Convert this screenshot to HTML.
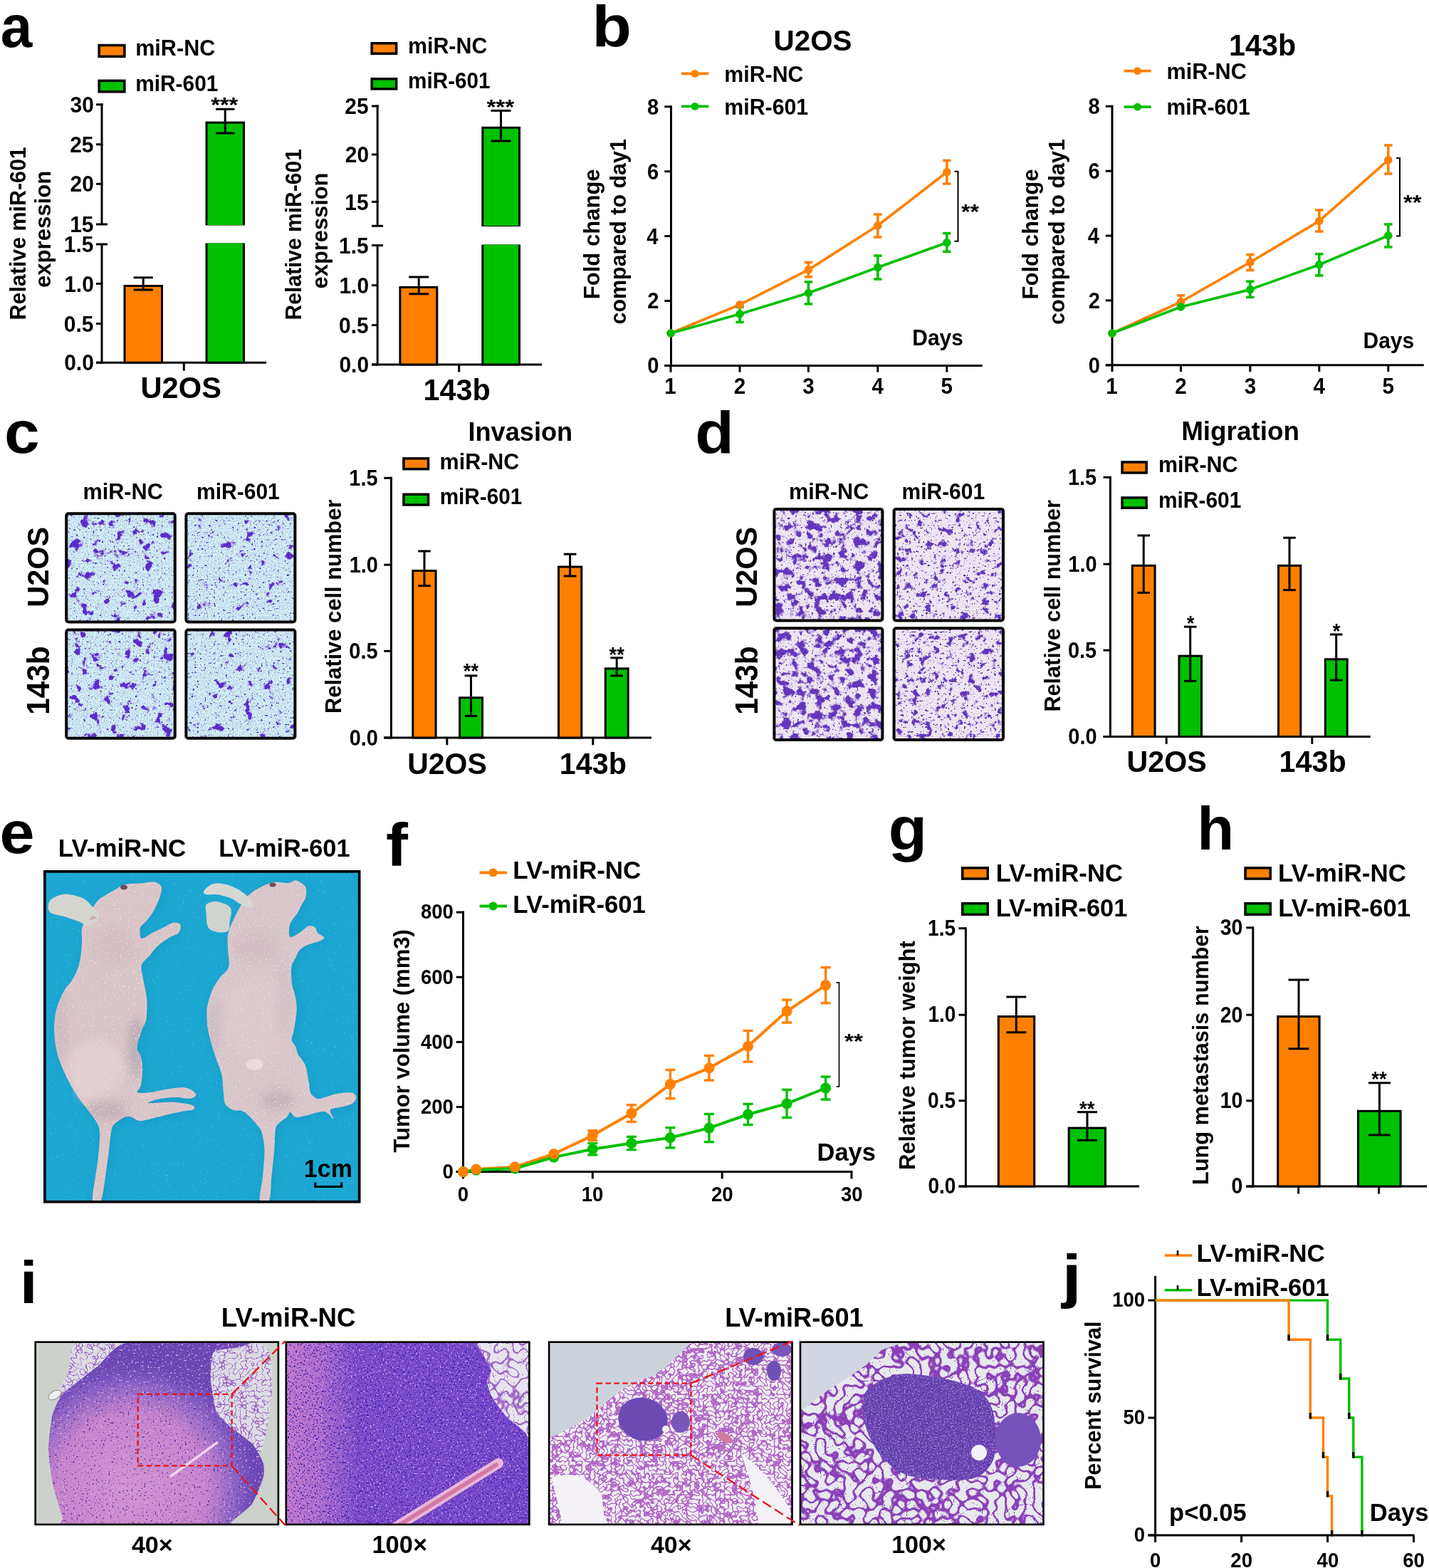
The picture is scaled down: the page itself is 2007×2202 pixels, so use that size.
<!DOCTYPE html><html><head><meta charset="utf-8"><title>Figure</title><style>html,body{margin:0;padding:0;background:#fff;width:2007px;height:2202px;overflow:hidden}svg{display:block}</style></head><body><svg width="2007" height="2202" viewBox="0 0 2007 2202" font-family="'Liberation Sans', Arial, Helvetica, sans-serif" font-weight="bold"><rect width="2007" height="2202" fill="#fff"/><text x="0.65" y="65.80" font-size="84.00" textLength="44.54" lengthAdjust="spacingAndGlyphs">a</text>
<rect x="139.15" y="63.55" width="35.70" height="15.80" fill="#FF8000" stroke="#000" stroke-width="3.5"/>
<rect x="139.15" y="113.35" width="35.70" height="15.50" fill="#00C000" stroke="#000" stroke-width="3.5"/>
<text x="190.18" y="78.30" font-size="31.35" textLength="112.15" lengthAdjust="spacingAndGlyphs">miR-NC</text>
<text x="190.23" y="128.00" font-size="30.59" textLength="116.10" lengthAdjust="spacingAndGlyphs">miR-601</text>
<line x1="143.00" y1="145.30" x2="143.00" y2="315.00" stroke="#000" stroke-width="3"/>
<line x1="143.00" y1="343.00" x2="143.00" y2="510.70" stroke="#000" stroke-width="3"/>
<line x1="135.00" y1="146.80" x2="144.50" y2="146.80" stroke="#000" stroke-width="3"/>
<line x1="135.00" y1="202.80" x2="144.50" y2="202.80" stroke="#000" stroke-width="3"/>
<line x1="135.00" y1="258.30" x2="144.50" y2="258.30" stroke="#000" stroke-width="3"/>
<line x1="135.00" y1="315.00" x2="151.00" y2="315.00" stroke="#000" stroke-width="3"/>
<line x1="135.00" y1="343.00" x2="151.00" y2="343.00" stroke="#000" stroke-width="3"/>
<line x1="135.00" y1="398.40" x2="143.00" y2="398.40" stroke="#000" stroke-width="3"/>
<line x1="135.00" y1="454.50" x2="143.00" y2="454.50" stroke="#000" stroke-width="3"/>
<line x1="135.00" y1="509.20" x2="143.00" y2="509.20" stroke="#000" stroke-width="3"/>
<line x1="135.00" y1="509.20" x2="374.00" y2="509.20" stroke="#000" stroke-width="3"/>
<line x1="258.30" y1="509.20" x2="258.30" y2="520.70" stroke="#000" stroke-width="3"/>
<text x="98.54" y="157.90" font-size="31.50" textLength="33.29" lengthAdjust="spacingAndGlyphs">30</text>
<text x="98.15" y="213.90" font-size="31.50" textLength="33.29" lengthAdjust="spacingAndGlyphs">25</text>
<text x="98.54" y="269.40" font-size="31.50" textLength="33.29" lengthAdjust="spacingAndGlyphs">20</text>
<text x="98.15" y="326.10" font-size="31.50" textLength="33.29" lengthAdjust="spacingAndGlyphs">15</text>
<text x="89.83" y="354.10" font-size="31.50" textLength="41.60" lengthAdjust="spacingAndGlyphs">1.5</text>
<text x="90.23" y="409.50" font-size="31.50" textLength="41.60" lengthAdjust="spacingAndGlyphs">1.0</text>
<text x="89.83" y="465.60" font-size="31.50" textLength="41.60" lengthAdjust="spacingAndGlyphs">0.5</text>
<text x="90.23" y="520.30" font-size="31.50" textLength="41.60" lengthAdjust="spacingAndGlyphs">0.0</text>
<rect x="175.00" y="401.50" width="52.50" height="107.70" fill="#FF8000" stroke="#000" stroke-width="3"/>
<line x1="201.20" y1="389.80" x2="201.20" y2="407.00" stroke="#000" stroke-width="3"/><line x1="187.60" y1="389.80" x2="214.80" y2="389.80" stroke="#000" stroke-width="3"/><line x1="187.60" y1="407.00" x2="214.80" y2="407.00" stroke="#000" stroke-width="3"/>
<rect x="290.0" y="172.1" width="52.5" height="142.9" fill="#00C000" stroke="#000" stroke-width="3"/>
<rect x="290.0" y="343" width="52.5" height="166.2" fill="#00C000" stroke="#000" stroke-width="3"/>
<rect x="291.5" y="310" width="49.5" height="6" fill="#00C000"/>
<rect x="291.5" y="341.5" width="49.5" height="4" fill="#00C000"/>
<line x1="316.20" y1="153.30" x2="316.20" y2="187.00" stroke="#000" stroke-width="3"/><line x1="303.00" y1="153.30" x2="329.40" y2="153.30" stroke="#000" stroke-width="3"/><line x1="303.00" y1="187.00" x2="329.40" y2="187.00" stroke="#000" stroke-width="3"/>
<text x="296.20" y="157.30" font-size="28.80" textLength="38.13" lengthAdjust="spacingAndGlyphs">***</text>
<text x="197.50" y="559.00" font-size="42.69" textLength="113.43" lengthAdjust="spacingAndGlyphs">U2OS</text>
<text transform="translate(36.00,447.40) rotate(-90)" x="-2.03" y="0" font-size="31.14" textLength="243.18" lengthAdjust="spacingAndGlyphs">Relative miR-601</text>
<text transform="translate(70.50,402.80) rotate(-90)" x="-1.22" y="0" font-size="31.88" textLength="164.24" lengthAdjust="spacingAndGlyphs">expression</text>
<rect x="522.15" y="60.75" width="34.50" height="14.50" fill="#FF8000" stroke="#000" stroke-width="3.5"/>
<rect x="522.15" y="110.75" width="34.50" height="14.10" fill="#00C000" stroke="#000" stroke-width="3.5"/>
<text x="573.00" y="74.80" font-size="31.12" textLength="111.33" lengthAdjust="spacingAndGlyphs">miR-NC</text>
<text x="573.04" y="124.30" font-size="30.45" textLength="115.59" lengthAdjust="spacingAndGlyphs">miR-601</text>
<line x1="530.20" y1="147.50" x2="530.20" y2="317.30" stroke="#000" stroke-width="3"/>
<line x1="530.20" y1="344.60" x2="530.20" y2="513.50" stroke="#000" stroke-width="3"/>
<line x1="522.00" y1="149.00" x2="531.70" y2="149.00" stroke="#000" stroke-width="3"/>
<line x1="522.00" y1="217.00" x2="531.70" y2="217.00" stroke="#000" stroke-width="3"/>
<line x1="522.00" y1="283.40" x2="531.70" y2="283.40" stroke="#000" stroke-width="3"/>
<line x1="522.00" y1="317.30" x2="538.00" y2="317.30" stroke="#000" stroke-width="3"/>
<line x1="522.00" y1="344.60" x2="538.00" y2="344.60" stroke="#000" stroke-width="3"/>
<line x1="522.00" y1="400.70" x2="530.20" y2="400.70" stroke="#000" stroke-width="3"/>
<line x1="522.00" y1="456.60" x2="530.20" y2="456.60" stroke="#000" stroke-width="3"/>
<line x1="522.00" y1="512.00" x2="530.20" y2="512.00" stroke="#000" stroke-width="3"/>
<line x1="522.00" y1="512.00" x2="761.00" y2="512.00" stroke="#000" stroke-width="3"/>
<line x1="644.70" y1="512.00" x2="644.70" y2="522.50" stroke="#000" stroke-width="3"/>
<text x="484.35" y="160.10" font-size="31.50" textLength="33.29" lengthAdjust="spacingAndGlyphs">25</text>
<text x="484.74" y="228.10" font-size="31.50" textLength="33.29" lengthAdjust="spacingAndGlyphs">20</text>
<text x="484.35" y="294.50" font-size="31.50" textLength="33.29" lengthAdjust="spacingAndGlyphs">15</text>
<text x="476.03" y="355.70" font-size="31.50" textLength="41.60" lengthAdjust="spacingAndGlyphs">1.5</text>
<text x="476.43" y="411.80" font-size="31.50" textLength="41.60" lengthAdjust="spacingAndGlyphs">1.0</text>
<text x="476.03" y="467.70" font-size="31.50" textLength="41.60" lengthAdjust="spacingAndGlyphs">0.5</text>
<text x="476.43" y="523.10" font-size="31.50" textLength="41.60" lengthAdjust="spacingAndGlyphs">0.0</text>
<rect x="561.90" y="403.40" width="51.90" height="108.60" fill="#FF8000" stroke="#000" stroke-width="3"/>
<line x1="588.20" y1="389.00" x2="588.20" y2="412.80" stroke="#000" stroke-width="3"/><line x1="574.20" y1="389.00" x2="602.20" y2="389.00" stroke="#000" stroke-width="3"/><line x1="574.20" y1="412.80" x2="602.20" y2="412.80" stroke="#000" stroke-width="3"/>
<rect x="677.8" y="179.3" width="51.700000000000045" height="137.2" fill="#00C000" stroke="#000" stroke-width="3"/>
<rect x="677.8" y="345" width="51.700000000000045" height="167" fill="#00C000" stroke="#000" stroke-width="3"/>
<rect x="679.3" y="311" width="48.700000000000045" height="6" fill="#00C000"/>
<rect x="679.3" y="343.5" width="48.700000000000045" height="4" fill="#00C000"/>
<line x1="703.50" y1="155.40" x2="703.50" y2="198.00" stroke="#000" stroke-width="3"/><line x1="689.50" y1="155.40" x2="717.50" y2="155.40" stroke="#000" stroke-width="3"/><line x1="689.50" y1="198.00" x2="717.50" y2="198.00" stroke="#000" stroke-width="3"/>
<text x="683.40" y="159.50" font-size="28.80" textLength="38.93" lengthAdjust="spacingAndGlyphs">***</text>
<text x="594.59" y="562.00" font-size="42.41" textLength="94.30" lengthAdjust="spacingAndGlyphs">143b</text>
<text transform="translate(423.00,447.40) rotate(-90)" x="-2.01" y="0" font-size="30.77" textLength="240.24" lengthAdjust="spacingAndGlyphs">Relative miR-601</text>
<text transform="translate(459.50,404.20) rotate(-90)" x="-1.20" y="0" font-size="31.61" textLength="162.82" lengthAdjust="spacingAndGlyphs">expression</text>
<text x="831.62" y="64.50" font-size="82.00" textLength="55.40" lengthAdjust="spacingAndGlyphs">b</text>
<line x1="942.50" y1="148.30" x2="942.50" y2="514.90" stroke="#000" stroke-width="3"/>
<line x1="933.30" y1="513.40" x2="942.50" y2="513.40" stroke="#000" stroke-width="3"/>
<line x1="933.30" y1="422.50" x2="942.50" y2="422.50" stroke="#000" stroke-width="3"/>
<line x1="933.30" y1="331.60" x2="942.50" y2="331.60" stroke="#000" stroke-width="3"/>
<line x1="933.30" y1="240.70" x2="942.50" y2="240.70" stroke="#000" stroke-width="3"/>
<line x1="933.30" y1="149.80" x2="942.50" y2="149.80" stroke="#000" stroke-width="3"/>
<line x1="933.30" y1="513.40" x2="1379.70" y2="513.40" stroke="#000" stroke-width="3"/>
<line x1="942.00" y1="513.40" x2="942.00" y2="522.60" stroke="#000" stroke-width="3"/>
<line x1="1039.00" y1="513.40" x2="1039.00" y2="522.60" stroke="#000" stroke-width="3"/>
<line x1="1135.40" y1="513.40" x2="1135.40" y2="522.60" stroke="#000" stroke-width="3"/>
<line x1="1232.80" y1="513.40" x2="1232.80" y2="522.60" stroke="#000" stroke-width="3"/>
<line x1="1329.80" y1="513.40" x2="1329.80" y2="522.60" stroke="#000" stroke-width="3"/>
<text x="909.19" y="524.30" font-size="31.00" textLength="16.21" lengthAdjust="spacingAndGlyphs">0</text>
<text x="909.16" y="433.40" font-size="31.00" textLength="16.21" lengthAdjust="spacingAndGlyphs">2</text>
<text x="908.15" y="342.50" font-size="31.00" textLength="16.21" lengthAdjust="spacingAndGlyphs">4</text>
<text x="909.05" y="251.60" font-size="31.00" textLength="16.21" lengthAdjust="spacingAndGlyphs">6</text>
<text x="908.89" y="160.70" font-size="31.00" textLength="16.21" lengthAdjust="spacingAndGlyphs">8</text>
<text x="933.25" y="552.60" font-size="31.50" textLength="16.47" lengthAdjust="spacingAndGlyphs">1</text>
<text x="1030.85" y="552.60" font-size="31.50" textLength="16.47" lengthAdjust="spacingAndGlyphs">2</text>
<text x="1127.36" y="552.60" font-size="31.50" textLength="16.47" lengthAdjust="spacingAndGlyphs">3</text>
<text x="1224.42" y="552.60" font-size="31.50" textLength="16.47" lengthAdjust="spacingAndGlyphs">4</text>
<text x="1321.52" y="552.60" font-size="31.50" textLength="16.47" lengthAdjust="spacingAndGlyphs">5</text>
<polyline points="942.0,468.0 1039.0,427.9 1135.4,378.9 1232.8,316.8 1329.8,241.7" fill="none" stroke="#FF8000" stroke-width="3.7" stroke-linejoin="round"/>
<polyline points="942.0,468.0 1039.0,441.0 1135.4,411.5 1232.8,375.6 1329.8,340.7" fill="none" stroke="#00C000" stroke-width="3.7" stroke-linejoin="round"/>
<line x1="1135.40" y1="368.40" x2="1135.40" y2="388.70" stroke="#FF8000" stroke-width="3.6"/><line x1="1129.70" y1="368.40" x2="1141.10" y2="368.40" stroke="#FF8000" stroke-width="3.6"/><line x1="1129.70" y1="388.70" x2="1141.10" y2="388.70" stroke="#FF8000" stroke-width="3.6"/>
<line x1="1232.80" y1="301.00" x2="1232.80" y2="333.00" stroke="#FF8000" stroke-width="3.6"/><line x1="1227.10" y1="301.00" x2="1238.50" y2="301.00" stroke="#FF8000" stroke-width="3.6"/><line x1="1227.10" y1="333.00" x2="1238.50" y2="333.00" stroke="#FF8000" stroke-width="3.6"/>
<line x1="1329.80" y1="225.40" x2="1329.80" y2="258.00" stroke="#FF8000" stroke-width="3.6"/><line x1="1324.10" y1="225.40" x2="1335.50" y2="225.40" stroke="#FF8000" stroke-width="3.6"/><line x1="1324.10" y1="258.00" x2="1335.50" y2="258.00" stroke="#FF8000" stroke-width="3.6"/>
<line x1="1039.00" y1="431.00" x2="1039.00" y2="452.40" stroke="#00C000" stroke-width="3.6"/><line x1="1033.30" y1="431.00" x2="1044.70" y2="431.00" stroke="#00C000" stroke-width="3.6"/><line x1="1033.30" y1="452.40" x2="1044.70" y2="452.40" stroke="#00C000" stroke-width="3.6"/>
<line x1="1135.40" y1="395.90" x2="1135.40" y2="426.90" stroke="#00C000" stroke-width="3.6"/><line x1="1129.70" y1="395.90" x2="1141.10" y2="395.90" stroke="#00C000" stroke-width="3.6"/><line x1="1129.70" y1="426.90" x2="1141.10" y2="426.90" stroke="#00C000" stroke-width="3.6"/>
<line x1="1232.80" y1="359.00" x2="1232.80" y2="392.00" stroke="#00C000" stroke-width="3.6"/><line x1="1227.10" y1="359.00" x2="1238.50" y2="359.00" stroke="#00C000" stroke-width="3.6"/><line x1="1227.10" y1="392.00" x2="1238.50" y2="392.00" stroke="#00C000" stroke-width="3.6"/>
<line x1="1329.80" y1="327.60" x2="1329.80" y2="353.40" stroke="#00C000" stroke-width="3.6"/><line x1="1324.10" y1="327.60" x2="1335.50" y2="327.60" stroke="#00C000" stroke-width="3.6"/><line x1="1324.10" y1="353.40" x2="1335.50" y2="353.40" stroke="#00C000" stroke-width="3.6"/>
<circle cx="942.0" cy="468.0" r="5.8" fill="#FF8000"/>
<circle cx="1039.0" cy="427.9" r="5.8" fill="#FF8000"/>
<circle cx="1135.4" cy="378.9" r="5.8" fill="#FF8000"/>
<circle cx="1232.8" cy="316.8" r="5.8" fill="#FF8000"/>
<circle cx="1329.8" cy="241.7" r="5.8" fill="#FF8000"/>
<circle cx="942.0" cy="468.0" r="5.8" fill="#00C000"/>
<circle cx="1039.0" cy="441.0" r="5.8" fill="#00C000"/>
<circle cx="1135.4" cy="411.5" r="5.8" fill="#00C000"/>
<circle cx="1232.8" cy="375.6" r="5.8" fill="#00C000"/>
<circle cx="1329.8" cy="340.7" r="5.8" fill="#00C000"/>
<polyline points="1340.5,240.7 1345.5,240.7 1345.5,338.7 1340.5,338.7" fill="none" stroke="#000" stroke-width="2"/>
<text x="1349.91" y="306.50" font-size="28.80" textLength="25.13" lengthAdjust="spacingAndGlyphs">**</text>
<text x="1281.30" y="485.10" font-size="30.71" textLength="71.63" lengthAdjust="spacingAndGlyphs">Days</text>
<text transform="translate(841.70,418.20) rotate(-90)" x="-2.08" y="0" font-size="31.84" textLength="182.94" lengthAdjust="spacingAndGlyphs">Fold change</text>
<text transform="translate(878.80,454.30) rotate(-90)" x="-1.19" y="0" font-size="31.18" textLength="260.33" lengthAdjust="spacingAndGlyphs">compared to day1</text>
<text x="1086.57" y="70.50" font-size="41.41" textLength="110.00" lengthAdjust="spacingAndGlyphs">U2OS</text>
<line x1="956.80" y1="103.40" x2="995.30" y2="103.40" stroke="#FF8000" stroke-width="3.8"/>
<circle cx="976.0" cy="103.4" r="5.4" fill="#FF8000"/>
<line x1="956.80" y1="149.40" x2="995.30" y2="149.40" stroke="#00C000" stroke-width="3.8"/>
<circle cx="976.0" cy="149.4" r="5.4" fill="#00C000"/>
<text x="1017.30" y="114.60" font-size="31.07" textLength="111.13" lengthAdjust="spacingAndGlyphs">miR-NC</text>
<text x="1017.30" y="160.60" font-size="31.07" textLength="117.94" lengthAdjust="spacingAndGlyphs">miR-601</text>
<line x1="1562.00" y1="147.80" x2="1562.00" y2="514.30" stroke="#000" stroke-width="3"/>
<line x1="1552.80" y1="512.80" x2="1562.00" y2="512.80" stroke="#000" stroke-width="3"/>
<line x1="1552.80" y1="421.92" x2="1562.00" y2="421.92" stroke="#000" stroke-width="3"/>
<line x1="1552.80" y1="331.05" x2="1562.00" y2="331.05" stroke="#000" stroke-width="3"/>
<line x1="1552.80" y1="240.18" x2="1562.00" y2="240.18" stroke="#000" stroke-width="3"/>
<line x1="1552.80" y1="149.30" x2="1562.00" y2="149.30" stroke="#000" stroke-width="3"/>
<line x1="1552.80" y1="512.80" x2="1999.80" y2="512.80" stroke="#000" stroke-width="3"/>
<line x1="1562.00" y1="512.80" x2="1562.00" y2="522.00" stroke="#000" stroke-width="3"/>
<line x1="1658.50" y1="512.80" x2="1658.50" y2="522.00" stroke="#000" stroke-width="3"/>
<line x1="1755.80" y1="512.80" x2="1755.80" y2="522.00" stroke="#000" stroke-width="3"/>
<line x1="1852.80" y1="512.80" x2="1852.80" y2="522.00" stroke="#000" stroke-width="3"/>
<line x1="1949.80" y1="512.80" x2="1949.80" y2="522.00" stroke="#000" stroke-width="3"/>
<text x="1528.69" y="523.70" font-size="31.00" textLength="16.21" lengthAdjust="spacingAndGlyphs">0</text>
<text x="1528.66" y="432.82" font-size="31.00" textLength="16.21" lengthAdjust="spacingAndGlyphs">2</text>
<text x="1527.65" y="341.95" font-size="31.00" textLength="16.21" lengthAdjust="spacingAndGlyphs">4</text>
<text x="1528.55" y="251.08" font-size="31.00" textLength="16.21" lengthAdjust="spacingAndGlyphs">6</text>
<text x="1528.39" y="160.20" font-size="31.00" textLength="16.21" lengthAdjust="spacingAndGlyphs">8</text>
<text x="1553.25" y="552.60" font-size="31.50" textLength="16.47" lengthAdjust="spacingAndGlyphs">1</text>
<text x="1650.35" y="552.60" font-size="31.50" textLength="16.47" lengthAdjust="spacingAndGlyphs">2</text>
<text x="1747.76" y="552.60" font-size="31.50" textLength="16.47" lengthAdjust="spacingAndGlyphs">3</text>
<text x="1844.42" y="552.60" font-size="31.50" textLength="16.47" lengthAdjust="spacingAndGlyphs">4</text>
<text x="1941.52" y="552.60" font-size="31.50" textLength="16.47" lengthAdjust="spacingAndGlyphs">5</text>
<polyline points="1562.0,468.0 1658.5,424.0 1755.8,368.4 1852.8,310.3 1949.8,224.7" fill="none" stroke="#FF8000" stroke-width="3.7" stroke-linejoin="round"/>
<polyline points="1562.0,468.0 1658.5,431.0 1755.8,406.6 1852.8,371.7 1949.8,330.9" fill="none" stroke="#00C000" stroke-width="3.7" stroke-linejoin="round"/>
<line x1="1658.50" y1="414.80" x2="1658.50" y2="430.50" stroke="#FF8000" stroke-width="3.6"/><line x1="1652.80" y1="414.80" x2="1664.20" y2="414.80" stroke="#FF8000" stroke-width="3.6"/><line x1="1652.80" y1="430.50" x2="1664.20" y2="430.50" stroke="#FF8000" stroke-width="3.6"/>
<line x1="1755.80" y1="357.60" x2="1755.80" y2="379.50" stroke="#FF8000" stroke-width="3.6"/><line x1="1750.10" y1="357.60" x2="1761.50" y2="357.60" stroke="#FF8000" stroke-width="3.6"/><line x1="1750.10" y1="379.50" x2="1761.50" y2="379.50" stroke="#FF8000" stroke-width="3.6"/>
<line x1="1852.80" y1="295.00" x2="1852.80" y2="325.00" stroke="#FF8000" stroke-width="3.6"/><line x1="1847.10" y1="295.00" x2="1858.50" y2="295.00" stroke="#FF8000" stroke-width="3.6"/><line x1="1847.10" y1="325.00" x2="1858.50" y2="325.00" stroke="#FF8000" stroke-width="3.6"/>
<line x1="1949.80" y1="204.00" x2="1949.80" y2="244.00" stroke="#FF8000" stroke-width="3.6"/><line x1="1944.10" y1="204.00" x2="1955.50" y2="204.00" stroke="#FF8000" stroke-width="3.6"/><line x1="1944.10" y1="244.00" x2="1955.50" y2="244.00" stroke="#FF8000" stroke-width="3.6"/>
<line x1="1755.80" y1="395.20" x2="1755.80" y2="417.40" stroke="#00C000" stroke-width="3.6"/><line x1="1750.10" y1="395.20" x2="1761.50" y2="395.20" stroke="#00C000" stroke-width="3.6"/><line x1="1750.10" y1="417.40" x2="1761.50" y2="417.40" stroke="#00C000" stroke-width="3.6"/>
<line x1="1852.80" y1="356.70" x2="1852.80" y2="387.00" stroke="#00C000" stroke-width="3.6"/><line x1="1847.10" y1="356.70" x2="1858.50" y2="356.70" stroke="#00C000" stroke-width="3.6"/><line x1="1847.10" y1="387.00" x2="1858.50" y2="387.00" stroke="#00C000" stroke-width="3.6"/>
<line x1="1949.80" y1="315.00" x2="1949.80" y2="346.90" stroke="#00C000" stroke-width="3.6"/><line x1="1944.10" y1="315.00" x2="1955.50" y2="315.00" stroke="#00C000" stroke-width="3.6"/><line x1="1944.10" y1="346.90" x2="1955.50" y2="346.90" stroke="#00C000" stroke-width="3.6"/>
<circle cx="1562.0" cy="468.0" r="5.8" fill="#FF8000"/>
<circle cx="1658.5" cy="424.0" r="5.8" fill="#FF8000"/>
<circle cx="1755.8" cy="368.4" r="5.8" fill="#FF8000"/>
<circle cx="1852.8" cy="310.3" r="5.8" fill="#FF8000"/>
<circle cx="1949.8" cy="224.7" r="5.8" fill="#FF8000"/>
<circle cx="1562.0" cy="468.0" r="5.8" fill="#00C000"/>
<circle cx="1658.5" cy="431.0" r="5.8" fill="#00C000"/>
<circle cx="1755.8" cy="406.6" r="5.8" fill="#00C000"/>
<circle cx="1852.8" cy="371.7" r="5.8" fill="#00C000"/>
<circle cx="1949.8" cy="330.9" r="5.8" fill="#00C000"/>
<polyline points="1961,222 1966,222 1966,331.5 1961,331.5" fill="none" stroke="#000" stroke-width="2"/>
<text x="1970.90" y="293.50" font-size="28.80" textLength="25.63" lengthAdjust="spacingAndGlyphs">**</text>
<text x="1914.60" y="488.80" font-size="30.67" textLength="71.53" lengthAdjust="spacingAndGlyphs">Days</text>
<text transform="translate(1457.50,418.50) rotate(-90)" x="-2.08" y="0" font-size="31.89" textLength="183.24" lengthAdjust="spacingAndGlyphs">Fold change</text>
<text transform="translate(1495.00,454.70) rotate(-90)" x="-1.19" y="0" font-size="31.23" textLength="260.74" lengthAdjust="spacingAndGlyphs">compared to day1</text>
<text x="1726.10" y="77.80" font-size="42.31" textLength="94.09" lengthAdjust="spacingAndGlyphs">143b</text>
<line x1="1578.50" y1="99.60" x2="1616.70" y2="99.60" stroke="#FF8000" stroke-width="3.8"/>
<circle cx="1597.6" cy="99.6" r="5.4" fill="#FF8000"/>
<line x1="1578.50" y1="150.20" x2="1616.70" y2="150.20" stroke="#00C000" stroke-width="3.8"/>
<circle cx="1597.6" cy="150.2" r="5.4" fill="#00C000"/>
<text x="1638.48" y="111.00" font-size="31.41" textLength="112.36" lengthAdjust="spacingAndGlyphs">miR-NC</text>
<text x="1638.52" y="160.70" font-size="30.86" textLength="117.12" lengthAdjust="spacingAndGlyphs">miR-601</text>
<text x="6.02" y="635.90" font-size="84.00" textLength="49.60" lengthAdjust="spacingAndGlyphs">c</text>
<text x="116.38" y="700.60" font-size="31.44" textLength="112.46" lengthAdjust="spacingAndGlyphs">miR-NC</text>
<text x="276.02" y="700.60" font-size="30.78" textLength="116.81" lengthAdjust="spacingAndGlyphs">miR-601</text>
<rect x="95.2" y="723.2" width="148.5" height="148.2" fill="#cff1f3"/>
<filter id="tw1p" filterUnits="userSpaceOnUse" x="95.2" y="723.2" width="148.5" height="148.2" color-interpolation-filters="sRGB"><feTurbulence type="fractalNoise" baseFrequency="0.8" numOctaves="1" seed="301"/><feColorMatrix type="matrix" values="0 0 0 0 0.714 0 0 0 0 0.698 0 0 0 0 0.902 -16 0 0 0 7.0"/></filter><rect x="95.2" y="723.2" width="148.5" height="148.2" filter="url(#tw1p)"/>
<filter id="tw1h" filterUnits="userSpaceOnUse" x="95.2" y="723.2" width="148.5" height="148.2" color-interpolation-filters="sRGB"><feTurbulence type="fractalNoise" baseFrequency="0.07" numOctaves="5" seed="1"/><feColorMatrix type="matrix" values="0 0 0 0 0.659 0 0 0 0 0.604 0 0 0 0 0.878 -10 0 0 0 4.1"/></filter><rect x="95.2" y="723.2" width="148.5" height="148.2" filter="url(#tw1h)"/>
<filter id="tw1c" filterUnits="userSpaceOnUse" x="95.2" y="723.2" width="148.5" height="148.2" color-interpolation-filters="sRGB"><feTurbulence type="fractalNoise" baseFrequency="0.07" numOctaves="5" seed="1"/><feColorMatrix type="matrix" values="0 0 0 0 0.353 0 0 0 0 0.173 0 0 0 0 0.800 -20 0 0 0 7.125"/></filter><rect x="95.2" y="723.2" width="148.5" height="148.2" filter="url(#tw1c)"/>
<filter id="tw1d" filterUnits="userSpaceOnUse" x="95.2" y="723.2" width="148.5" height="148.2" color-interpolation-filters="sRGB"><feTurbulence type="fractalNoise" baseFrequency="0.3" numOctaves="2" seed="201"/><feColorMatrix type="matrix" values="0 0 0 0 0.290 0 0 0 0 0.204 0 0 0 0 0.706 -18 0 0 0 5.4"/></filter><rect x="95.2" y="723.2" width="148.5" height="148.2" filter="url(#tw1d)"/>
<rect x="93.2" y="721.2" width="152.5" height="152.19999999999993" rx="3" fill="none" stroke="#000" stroke-width="4"/>
<rect x="263.4" y="723.2" width="149.0" height="148.2" fill="#cff1f3"/>
<filter id="tw2p" filterUnits="userSpaceOnUse" x="263.4" y="723.2" width="149.0" height="148.2" color-interpolation-filters="sRGB"><feTurbulence type="fractalNoise" baseFrequency="0.8" numOctaves="1" seed="302"/><feColorMatrix type="matrix" values="0 0 0 0 0.714 0 0 0 0 0.698 0 0 0 0 0.902 -16 0 0 0 7.0"/></filter><rect x="263.4" y="723.2" width="149.0" height="148.2" filter="url(#tw2p)"/>
<filter id="tw2h" filterUnits="userSpaceOnUse" x="263.4" y="723.2" width="149.0" height="148.2" color-interpolation-filters="sRGB"><feTurbulence type="fractalNoise" baseFrequency="0.07" numOctaves="5" seed="2"/><feColorMatrix type="matrix" values="0 0 0 0 0.659 0 0 0 0 0.604 0 0 0 0 0.878 -10 0 0 0 3.6"/></filter><rect x="263.4" y="723.2" width="149.0" height="148.2" filter="url(#tw2h)"/>
<filter id="tw2c" filterUnits="userSpaceOnUse" x="263.4" y="723.2" width="149.0" height="148.2" color-interpolation-filters="sRGB"><feTurbulence type="fractalNoise" baseFrequency="0.07" numOctaves="5" seed="2"/><feColorMatrix type="matrix" values="0 0 0 0 0.353 0 0 0 0 0.173 0 0 0 0 0.800 -20 0 0 0 6.125"/></filter><rect x="263.4" y="723.2" width="149.0" height="148.2" filter="url(#tw2c)"/>
<filter id="tw2d" filterUnits="userSpaceOnUse" x="263.4" y="723.2" width="149.0" height="148.2" color-interpolation-filters="sRGB"><feTurbulence type="fractalNoise" baseFrequency="0.3" numOctaves="2" seed="202"/><feColorMatrix type="matrix" values="0 0 0 0 0.290 0 0 0 0 0.204 0 0 0 0 0.706 -18 0 0 0 5.6"/></filter><rect x="263.4" y="723.2" width="149.0" height="148.2" filter="url(#tw2d)"/>
<rect x="261.4" y="721.2" width="153.0" height="152.19999999999993" rx="3" fill="none" stroke="#000" stroke-width="4"/>
<rect x="95.2" y="886.5" width="148.5" height="148.2" fill="#cff1f3"/>
<filter id="tw3p" filterUnits="userSpaceOnUse" x="95.2" y="886.5" width="148.5" height="148.2" color-interpolation-filters="sRGB"><feTurbulence type="fractalNoise" baseFrequency="0.8" numOctaves="1" seed="303"/><feColorMatrix type="matrix" values="0 0 0 0 0.714 0 0 0 0 0.698 0 0 0 0 0.902 -16 0 0 0 7.0"/></filter><rect x="95.2" y="886.5" width="148.5" height="148.2" filter="url(#tw3p)"/>
<filter id="tw3h" filterUnits="userSpaceOnUse" x="95.2" y="886.5" width="148.5" height="148.2" color-interpolation-filters="sRGB"><feTurbulence type="fractalNoise" baseFrequency="0.07" numOctaves="5" seed="3"/><feColorMatrix type="matrix" values="0 0 0 0 0.659 0 0 0 0 0.604 0 0 0 0 0.878 -10 0 0 0 4.2"/></filter><rect x="95.2" y="886.5" width="148.5" height="148.2" filter="url(#tw3h)"/>
<filter id="tw3c" filterUnits="userSpaceOnUse" x="95.2" y="886.5" width="148.5" height="148.2" color-interpolation-filters="sRGB"><feTurbulence type="fractalNoise" baseFrequency="0.07" numOctaves="5" seed="3"/><feColorMatrix type="matrix" values="0 0 0 0 0.353 0 0 0 0 0.173 0 0 0 0 0.800 -20 0 0 0 7.375"/></filter><rect x="95.2" y="886.5" width="148.5" height="148.2" filter="url(#tw3c)"/>
<filter id="tw3d" filterUnits="userSpaceOnUse" x="95.2" y="886.5" width="148.5" height="148.2" color-interpolation-filters="sRGB"><feTurbulence type="fractalNoise" baseFrequency="0.3" numOctaves="2" seed="203"/><feColorMatrix type="matrix" values="0 0 0 0 0.290 0 0 0 0 0.204 0 0 0 0 0.706 -18 0 0 0 5.4"/></filter><rect x="95.2" y="886.5" width="148.5" height="148.2" filter="url(#tw3d)"/>
<rect x="93.2" y="884.5" width="152.5" height="152.20000000000005" rx="3" fill="none" stroke="#000" stroke-width="4"/>
<rect x="263.4" y="886.5" width="149.0" height="148.2" fill="#cff1f3"/>
<filter id="tw4p" filterUnits="userSpaceOnUse" x="263.4" y="886.5" width="149.0" height="148.2" color-interpolation-filters="sRGB"><feTurbulence type="fractalNoise" baseFrequency="0.8" numOctaves="1" seed="304"/><feColorMatrix type="matrix" values="0 0 0 0 0.714 0 0 0 0 0.698 0 0 0 0 0.902 -16 0 0 0 7.0"/></filter><rect x="263.4" y="886.5" width="149.0" height="148.2" filter="url(#tw4p)"/>
<filter id="tw4h" filterUnits="userSpaceOnUse" x="263.4" y="886.5" width="149.0" height="148.2" color-interpolation-filters="sRGB"><feTurbulence type="fractalNoise" baseFrequency="0.07" numOctaves="5" seed="4"/><feColorMatrix type="matrix" values="0 0 0 0 0.659 0 0 0 0 0.604 0 0 0 0 0.878 -10 0 0 0 3.7"/></filter><rect x="263.4" y="886.5" width="149.0" height="148.2" filter="url(#tw4h)"/>
<filter id="tw4c" filterUnits="userSpaceOnUse" x="263.4" y="886.5" width="149.0" height="148.2" color-interpolation-filters="sRGB"><feTurbulence type="fractalNoise" baseFrequency="0.07" numOctaves="5" seed="4"/><feColorMatrix type="matrix" values="0 0 0 0 0.353 0 0 0 0 0.173 0 0 0 0 0.800 -20 0 0 0 6.375"/></filter><rect x="263.4" y="886.5" width="149.0" height="148.2" filter="url(#tw4c)"/>
<filter id="tw4d" filterUnits="userSpaceOnUse" x="263.4" y="886.5" width="149.0" height="148.2" color-interpolation-filters="sRGB"><feTurbulence type="fractalNoise" baseFrequency="0.3" numOctaves="2" seed="204"/><feColorMatrix type="matrix" values="0 0 0 0 0.290 0 0 0 0 0.204 0 0 0 0 0.706 -18 0 0 0 5.6"/></filter><rect x="263.4" y="886.5" width="149.0" height="148.2" filter="url(#tw4d)"/>
<rect x="261.4" y="884.5" width="153.0" height="152.20000000000005" rx="3" fill="none" stroke="#000" stroke-width="4"/>
<text transform="translate(68.00,850.30) rotate(-90)" x="-2.49" y="0" font-size="42.50" textLength="112.91" lengthAdjust="spacingAndGlyphs">U2OS</text>
<text transform="translate(69.40,1001.40) rotate(-90)" x="-2.68" y="0" font-size="43.59" textLength="96.92" lengthAdjust="spacingAndGlyphs">143b</text>
<line x1="549.40" y1="669.80" x2="549.40" y2="1037.50" stroke="#000" stroke-width="3"/>
<line x1="539.30" y1="671.30" x2="549.40" y2="671.30" stroke="#000" stroke-width="3"/>
<line x1="539.30" y1="793.20" x2="549.40" y2="793.20" stroke="#000" stroke-width="3"/>
<line x1="539.30" y1="914.30" x2="549.40" y2="914.30" stroke="#000" stroke-width="3"/>
<line x1="539.30" y1="1036.00" x2="549.40" y2="1036.00" stroke="#000" stroke-width="3"/>
<line x1="539.30" y1="1036.00" x2="915.00" y2="1036.00" stroke="#000" stroke-width="3"/>
<line x1="627.80" y1="1036.00" x2="627.80" y2="1046.30" stroke="#000" stroke-width="3"/>
<line x1="832.80" y1="1036.00" x2="832.80" y2="1046.30" stroke="#000" stroke-width="3"/>
<text x="490.32" y="681.90" font-size="31.50" textLength="40.29" lengthAdjust="spacingAndGlyphs">1.5</text>
<text x="490.70" y="803.80" font-size="31.50" textLength="40.29" lengthAdjust="spacingAndGlyphs">1.0</text>
<text x="490.32" y="924.90" font-size="31.50" textLength="40.29" lengthAdjust="spacingAndGlyphs">0.5</text>
<text x="490.70" y="1046.60" font-size="31.50" textLength="40.29" lengthAdjust="spacingAndGlyphs">0.0</text>
<rect x="579.80" y="801.50" width="32.30" height="234.50" fill="#FF8000" stroke="#000" stroke-width="3"/>
<rect x="645.60" y="979.80" width="31.90" height="56.20" fill="#00C000" stroke="#000" stroke-width="3"/>
<rect x="784.50" y="796.00" width="32.30" height="240.00" fill="#FF8000" stroke="#000" stroke-width="3"/>
<rect x="850.30" y="938.90" width="31.90" height="97.10" fill="#00C000" stroke="#000" stroke-width="3"/>
<line x1="596.00" y1="774.00" x2="596.00" y2="822.60" stroke="#000" stroke-width="3"/><line x1="587.20" y1="774.00" x2="604.80" y2="774.00" stroke="#000" stroke-width="3"/><line x1="587.20" y1="822.60" x2="604.80" y2="822.60" stroke="#000" stroke-width="3"/>
<line x1="661.50" y1="948.90" x2="661.50" y2="1005.50" stroke="#000" stroke-width="3"/><line x1="652.70" y1="948.90" x2="670.30" y2="948.90" stroke="#000" stroke-width="3"/><line x1="652.70" y1="1005.50" x2="670.30" y2="1005.50" stroke="#000" stroke-width="3"/>
<line x1="800.60" y1="778.20" x2="800.60" y2="809.00" stroke="#000" stroke-width="3"/><line x1="791.80" y1="778.20" x2="809.40" y2="778.20" stroke="#000" stroke-width="3"/><line x1="791.80" y1="809.00" x2="809.40" y2="809.00" stroke="#000" stroke-width="3"/>
<line x1="866.20" y1="923.80" x2="866.20" y2="948.90" stroke="#000" stroke-width="3"/><line x1="857.40" y1="923.80" x2="875.00" y2="923.80" stroke="#000" stroke-width="3"/><line x1="857.40" y1="948.90" x2="875.00" y2="948.90" stroke="#000" stroke-width="3"/>
<text x="650.83" y="952.10" font-size="28.80" textLength="21.29" lengthAdjust="spacingAndGlyphs">**</text>
<text x="855.53" y="929.10" font-size="28.80" textLength="21.29" lengthAdjust="spacingAndGlyphs">**</text>
<text x="572.24" y="1087.00" font-size="41.99" textLength="111.56" lengthAdjust="spacingAndGlyphs">U2OS</text>
<text x="785.80" y="1087.00" font-size="42.31" textLength="94.09" lengthAdjust="spacingAndGlyphs">143b</text>
<text transform="translate(479.00,1000.00) rotate(-90)" x="-2.07" y="0" font-size="31.67" textLength="300.53" lengthAdjust="spacingAndGlyphs">Relative cell number</text>
<text x="657.48" y="619.00" font-size="37.08" textLength="146.76" lengthAdjust="spacingAndGlyphs">Invasion</text>
<rect x="566.95" y="643.85" width="34.60" height="14.80" fill="#FF8000" stroke="#000" stroke-width="3.5"/>
<rect x="566.95" y="694.25" width="34.60" height="14.70" fill="#00C000" stroke="#000" stroke-width="3.5"/>
<text x="617.59" y="658.50" font-size="31.24" textLength="111.74" lengthAdjust="spacingAndGlyphs">miR-NC</text>
<text x="617.64" y="708.30" font-size="30.51" textLength="115.79" lengthAdjust="spacingAndGlyphs">miR-601</text>
<text x="976.34" y="637.20" font-size="84.00" textLength="54.55" lengthAdjust="spacingAndGlyphs">d</text>
<text x="1107.98" y="700.60" font-size="31.41" textLength="112.36" lengthAdjust="spacingAndGlyphs">miR-NC</text>
<text x="1266.52" y="700.60" font-size="30.72" textLength="116.61" lengthAdjust="spacingAndGlyphs">miR-601</text>
<rect x="1089.4" y="716.9" width="148.0" height="152.5" fill="#eee6f3"/>
<filter id="tw5p" filterUnits="userSpaceOnUse" x="1089.4" y="716.9" width="148.0" height="152.5" color-interpolation-filters="sRGB"><feTurbulence type="fractalNoise" baseFrequency="0.8" numOctaves="1" seed="305"/><feColorMatrix type="matrix" values="0 0 0 0 0.847 0 0 0 0 0.784 0 0 0 0 0.902 -16 0 0 0 6.0"/></filter><rect x="1089.4" y="716.9" width="148.0" height="152.5" filter="url(#tw5p)"/>
<filter id="tw5h" filterUnits="userSpaceOnUse" x="1089.4" y="716.9" width="148.0" height="152.5" color-interpolation-filters="sRGB"><feTurbulence type="fractalNoise" baseFrequency="0.09" numOctaves="5" seed="5"/><feColorMatrix type="matrix" values="0 0 0 0 0.612 0 0 0 0 0.494 0 0 0 0 0.816 -10 0 0 0 5.0"/></filter><rect x="1089.4" y="716.9" width="148.0" height="152.5" filter="url(#tw5h)"/>
<filter id="tw5c" filterUnits="userSpaceOnUse" x="1089.4" y="716.9" width="148.0" height="152.5" color-interpolation-filters="sRGB"><feTurbulence type="fractalNoise" baseFrequency="0.09" numOctaves="5" seed="5"/><feColorMatrix type="matrix" values="0 0 0 0 0.392 0 0 0 0 0.212 0 0 0 0 0.745 -20 0 0 0 8.5"/></filter><rect x="1089.4" y="716.9" width="148.0" height="152.5" filter="url(#tw5c)"/>
<filter id="tw5d" filterUnits="userSpaceOnUse" x="1089.4" y="716.9" width="148.0" height="152.5" color-interpolation-filters="sRGB"><feTurbulence type="fractalNoise" baseFrequency="0.3" numOctaves="2" seed="205"/><feColorMatrix type="matrix" values="0 0 0 0 0.298 0 0 0 0 0.180 0 0 0 0 0.604 -18 0 0 0 5.7"/></filter><rect x="1089.4" y="716.9" width="148.0" height="152.5" filter="url(#tw5d)"/>
<rect x="1087.4" y="714.9" width="152.0" height="156.5" rx="3" fill="none" stroke="#000" stroke-width="4"/>
<rect x="1257.6" y="716.9" width="149.4" height="152.5" fill="#eee6f3"/>
<filter id="tw6p" filterUnits="userSpaceOnUse" x="1257.6" y="716.9" width="149.4" height="152.5" color-interpolation-filters="sRGB"><feTurbulence type="fractalNoise" baseFrequency="0.8" numOctaves="1" seed="306"/><feColorMatrix type="matrix" values="0 0 0 0 0.847 0 0 0 0 0.784 0 0 0 0 0.902 -16 0 0 0 6.0"/></filter><rect x="1257.6" y="716.9" width="149.4" height="152.5" filter="url(#tw6p)"/>
<filter id="tw6h" filterUnits="userSpaceOnUse" x="1257.6" y="716.9" width="149.4" height="152.5" color-interpolation-filters="sRGB"><feTurbulence type="fractalNoise" baseFrequency="0.1" numOctaves="5" seed="6"/><feColorMatrix type="matrix" values="0 0 0 0 0.612 0 0 0 0 0.494 0 0 0 0 0.816 -10 0 0 0 4.2"/></filter><rect x="1257.6" y="716.9" width="149.4" height="152.5" filter="url(#tw6h)"/>
<filter id="tw6c" filterUnits="userSpaceOnUse" x="1257.6" y="716.9" width="149.4" height="152.5" color-interpolation-filters="sRGB"><feTurbulence type="fractalNoise" baseFrequency="0.1" numOctaves="5" seed="6"/><feColorMatrix type="matrix" values="0 0 0 0 0.392 0 0 0 0 0.212 0 0 0 0 0.745 -20 0 0 0 7.125"/></filter><rect x="1257.6" y="716.9" width="149.4" height="152.5" filter="url(#tw6c)"/>
<filter id="tw6d" filterUnits="userSpaceOnUse" x="1257.6" y="716.9" width="149.4" height="152.5" color-interpolation-filters="sRGB"><feTurbulence type="fractalNoise" baseFrequency="0.3" numOctaves="2" seed="206"/><feColorMatrix type="matrix" values="0 0 0 0 0.298 0 0 0 0 0.180 0 0 0 0 0.604 -18 0 0 0 5.9"/></filter><rect x="1257.6" y="716.9" width="149.4" height="152.5" filter="url(#tw6d)"/>
<rect x="1255.6" y="714.9" width="153.4000000000001" height="156.5" rx="3" fill="none" stroke="#000" stroke-width="4"/>
<rect x="1089.4" y="884.3" width="148.0" height="152.8" fill="#eee6f3"/>
<filter id="tw7p" filterUnits="userSpaceOnUse" x="1089.4" y="884.3" width="148.0" height="152.8" color-interpolation-filters="sRGB"><feTurbulence type="fractalNoise" baseFrequency="0.8" numOctaves="1" seed="307"/><feColorMatrix type="matrix" values="0 0 0 0 0.847 0 0 0 0 0.784 0 0 0 0 0.902 -16 0 0 0 6.0"/></filter><rect x="1089.4" y="884.3" width="148.0" height="152.8" filter="url(#tw7p)"/>
<filter id="tw7h" filterUnits="userSpaceOnUse" x="1089.4" y="884.3" width="148.0" height="152.8" color-interpolation-filters="sRGB"><feTurbulence type="fractalNoise" baseFrequency="0.09" numOctaves="5" seed="7"/><feColorMatrix type="matrix" values="0 0 0 0 0.612 0 0 0 0 0.494 0 0 0 0 0.816 -10 0 0 0 5.1"/></filter><rect x="1089.4" y="884.3" width="148.0" height="152.8" filter="url(#tw7h)"/>
<filter id="tw7c" filterUnits="userSpaceOnUse" x="1089.4" y="884.3" width="148.0" height="152.8" color-interpolation-filters="sRGB"><feTurbulence type="fractalNoise" baseFrequency="0.09" numOctaves="5" seed="7"/><feColorMatrix type="matrix" values="0 0 0 0 0.392 0 0 0 0 0.212 0 0 0 0 0.745 -20 0 0 0 8.625"/></filter><rect x="1089.4" y="884.3" width="148.0" height="152.8" filter="url(#tw7c)"/>
<filter id="tw7d" filterUnits="userSpaceOnUse" x="1089.4" y="884.3" width="148.0" height="152.8" color-interpolation-filters="sRGB"><feTurbulence type="fractalNoise" baseFrequency="0.3" numOctaves="2" seed="207"/><feColorMatrix type="matrix" values="0 0 0 0 0.298 0 0 0 0 0.180 0 0 0 0 0.604 -18 0 0 0 5.7"/></filter><rect x="1089.4" y="884.3" width="148.0" height="152.8" filter="url(#tw7d)"/>
<rect x="1087.4" y="882.3" width="152.0" height="156.79999999999995" rx="3" fill="none" stroke="#000" stroke-width="4"/>
<rect x="1257.6" y="884.3" width="149.4" height="152.8" fill="#eee6f3"/>
<filter id="tw8p" filterUnits="userSpaceOnUse" x="1257.6" y="884.3" width="149.4" height="152.8" color-interpolation-filters="sRGB"><feTurbulence type="fractalNoise" baseFrequency="0.8" numOctaves="1" seed="308"/><feColorMatrix type="matrix" values="0 0 0 0 0.847 0 0 0 0 0.784 0 0 0 0 0.902 -16 0 0 0 6.0"/></filter><rect x="1257.6" y="884.3" width="149.4" height="152.8" filter="url(#tw8p)"/>
<filter id="tw8h" filterUnits="userSpaceOnUse" x="1257.6" y="884.3" width="149.4" height="152.8" color-interpolation-filters="sRGB"><feTurbulence type="fractalNoise" baseFrequency="0.1" numOctaves="5" seed="8"/><feColorMatrix type="matrix" values="0 0 0 0 0.612 0 0 0 0 0.494 0 0 0 0 0.816 -10 0 0 0 4.3"/></filter><rect x="1257.6" y="884.3" width="149.4" height="152.8" filter="url(#tw8h)"/>
<filter id="tw8c" filterUnits="userSpaceOnUse" x="1257.6" y="884.3" width="149.4" height="152.8" color-interpolation-filters="sRGB"><feTurbulence type="fractalNoise" baseFrequency="0.1" numOctaves="5" seed="8"/><feColorMatrix type="matrix" values="0 0 0 0 0.392 0 0 0 0 0.212 0 0 0 0 0.745 -20 0 0 0 7.25"/></filter><rect x="1257.6" y="884.3" width="149.4" height="152.8" filter="url(#tw8c)"/>
<filter id="tw8d" filterUnits="userSpaceOnUse" x="1257.6" y="884.3" width="149.4" height="152.8" color-interpolation-filters="sRGB"><feTurbulence type="fractalNoise" baseFrequency="0.3" numOctaves="2" seed="208"/><feColorMatrix type="matrix" values="0 0 0 0 0.298 0 0 0 0 0.180 0 0 0 0 0.604 -18 0 0 0 5.9"/></filter><rect x="1257.6" y="884.3" width="149.4" height="152.8" filter="url(#tw8d)"/>
<rect x="1255.6" y="882.3" width="153.4000000000001" height="156.79999999999995" rx="3" fill="none" stroke="#000" stroke-width="4"/>
<text transform="translate(1063.00,850.30) rotate(-90)" x="-2.49" y="0" font-size="42.50" textLength="112.91" lengthAdjust="spacingAndGlyphs">U2OS</text>
<text transform="translate(1064.00,1001.40) rotate(-90)" x="-2.68" y="0" font-size="43.59" textLength="96.92" lengthAdjust="spacingAndGlyphs">143b</text>
<line x1="1559.40" y1="668.80" x2="1559.40" y2="1036.00" stroke="#000" stroke-width="3"/>
<line x1="1549.60" y1="670.30" x2="1559.40" y2="670.30" stroke="#000" stroke-width="3"/>
<line x1="1549.60" y1="792.20" x2="1559.40" y2="792.20" stroke="#000" stroke-width="3"/>
<line x1="1549.60" y1="913.20" x2="1559.40" y2="913.20" stroke="#000" stroke-width="3"/>
<line x1="1549.60" y1="1034.50" x2="1559.40" y2="1034.50" stroke="#000" stroke-width="3"/>
<line x1="1549.60" y1="1034.50" x2="1924.60" y2="1034.50" stroke="#000" stroke-width="3"/>
<line x1="1638.20" y1="1034.50" x2="1638.20" y2="1044.80" stroke="#000" stroke-width="3"/>
<line x1="1842.80" y1="1034.50" x2="1842.80" y2="1044.80" stroke="#000" stroke-width="3"/>
<text x="1499.92" y="680.90" font-size="31.50" textLength="40.29" lengthAdjust="spacingAndGlyphs">1.5</text>
<text x="1500.30" y="802.80" font-size="31.50" textLength="40.29" lengthAdjust="spacingAndGlyphs">1.0</text>
<text x="1499.92" y="923.80" font-size="31.50" textLength="40.29" lengthAdjust="spacingAndGlyphs">0.5</text>
<text x="1500.30" y="1045.10" font-size="31.50" textLength="40.29" lengthAdjust="spacingAndGlyphs">0.0</text>
<rect x="1590.30" y="794.30" width="31.80" height="240.20" fill="#FF8000" stroke="#000" stroke-width="3"/>
<rect x="1656.00" y="921.20" width="31.50" height="113.30" fill="#00C000" stroke="#000" stroke-width="3"/>
<rect x="1795.50" y="794.30" width="31.30" height="240.20" fill="#FF8000" stroke="#000" stroke-width="3"/>
<rect x="1861.30" y="925.80" width="30.90" height="108.70" fill="#00C000" stroke="#000" stroke-width="3"/>
<line x1="1606.20" y1="752.00" x2="1606.20" y2="832.40" stroke="#000" stroke-width="3"/><line x1="1597.40" y1="752.00" x2="1615.00" y2="752.00" stroke="#000" stroke-width="3"/><line x1="1597.40" y1="832.40" x2="1615.00" y2="832.40" stroke="#000" stroke-width="3"/>
<line x1="1671.70" y1="880.20" x2="1671.70" y2="956.40" stroke="#000" stroke-width="3"/><line x1="1662.90" y1="880.20" x2="1680.50" y2="880.20" stroke="#000" stroke-width="3"/><line x1="1662.90" y1="956.40" x2="1680.50" y2="956.40" stroke="#000" stroke-width="3"/>
<line x1="1811.00" y1="755.20" x2="1811.00" y2="828.60" stroke="#000" stroke-width="3"/><line x1="1802.20" y1="755.20" x2="1819.80" y2="755.20" stroke="#000" stroke-width="3"/><line x1="1802.20" y1="828.60" x2="1819.80" y2="828.60" stroke="#000" stroke-width="3"/>
<line x1="1876.70" y1="891.00" x2="1876.70" y2="955.20" stroke="#000" stroke-width="3"/><line x1="1867.90" y1="891.00" x2="1885.50" y2="891.00" stroke="#000" stroke-width="3"/><line x1="1867.90" y1="955.20" x2="1885.50" y2="955.20" stroke="#000" stroke-width="3"/>
<text x="1666.65" y="884.70" font-size="28.80" textLength="10.65" lengthAdjust="spacingAndGlyphs">*</text>
<text x="1871.65" y="895.50" font-size="28.80" textLength="10.65" lengthAdjust="spacingAndGlyphs">*</text>
<text x="1582.53" y="1083.90" font-size="42.19" textLength="112.08" lengthAdjust="spacingAndGlyphs">U2OS</text>
<text x="1796.39" y="1083.90" font-size="42.41" textLength="94.30" lengthAdjust="spacingAndGlyphs">143b</text>
<text transform="translate(1488.80,997.50) rotate(-90)" x="-2.04" y="0" font-size="31.33" textLength="297.31" lengthAdjust="spacingAndGlyphs">Relative cell number</text>
<text x="1659.13" y="617.80" font-size="37.78" textLength="165.85" lengthAdjust="spacingAndGlyphs">Migration</text>
<rect x="1576.05" y="648.95" width="34.10" height="15.00" fill="#FF8000" stroke="#000" stroke-width="3.5"/>
<rect x="1576.05" y="698.95" width="34.10" height="14.30" fill="#00C000" stroke="#000" stroke-width="3.5"/>
<text x="1626.89" y="662.60" font-size="31.24" textLength="111.74" lengthAdjust="spacingAndGlyphs">miR-NC</text>
<text x="1626.93" y="712.60" font-size="30.67" textLength="116.40" lengthAdjust="spacingAndGlyphs">miR-601</text>
<text x="-0.55" y="1198.20" font-size="84.00" textLength="49.06" lengthAdjust="spacingAndGlyphs">e</text>
<text x="81.72" y="1202.70" font-size="34.88" textLength="179.61" lengthAdjust="spacingAndGlyphs">LV-miR-NC</text>
<text x="307.16" y="1202.70" font-size="34.35" textLength="184.37" lengthAdjust="spacingAndGlyphs">LV-miR-601</text>
<defs><filter id="mblur" x="-20%" y="-20%" width="140%" height="140%"><feGaussianBlur stdDeviation="7"/></filter><clipPath id="m1c"><path d="M226.5,1245.0C228.0,1248.1 226.3,1253.4 225.3,1257.6C224.3,1261.8 222.2,1265.9 220.3,1270.1C218.4,1274.3 216.7,1278.4 214.0,1282.6C211.3,1286.8 206.7,1292.0 204.0,1295.1C201.3,1298.2 198.9,1299.3 197.7,1301.4C196.4,1303.5 196.3,1304.8 196.5,1307.6C196.7,1310.4 196.1,1317.6 199.0,1318.0C201.9,1318.4 209.1,1312.5 214.0,1310.0C218.9,1307.5 223.5,1305.4 228.4,1303.0C233.3,1300.6 239.2,1296.5 243.3,1295.7C247.4,1295.0 251.9,1296.1 253.2,1298.5C254.5,1300.9 253.5,1307.0 251.0,1310.0C248.5,1313.0 243.1,1313.6 238.3,1316.6C233.5,1319.6 226.7,1323.8 222.0,1328.0C217.3,1332.2 213.8,1337.5 210.0,1342.0C206.2,1346.5 200.6,1350.3 199.0,1355.0C197.4,1359.7 199.4,1364.5 200.2,1370.2C201.0,1375.9 202.9,1382.7 204.0,1389.0C205.1,1395.3 206.3,1400.5 206.5,1407.8C206.7,1415.1 206.4,1426.3 205.2,1432.8C203.9,1439.3 201.1,1440.6 199.0,1447.0C196.9,1453.4 192.7,1465.2 192.5,1471.3C192.3,1477.4 196.4,1478.6 197.7,1483.8C199.0,1489.0 200.2,1495.7 200.2,1502.6C200.2,1509.5 198.9,1519.8 197.7,1525.0C196.5,1530.2 190.6,1532.5 193.0,1534.0C195.4,1535.5 204.9,1534.8 212.0,1534.0C219.1,1533.2 227.2,1530.6 235.3,1529.5C243.4,1528.4 253.6,1526.3 260.3,1527.5C267.0,1528.7 274.2,1534.0 275.3,1536.5C276.4,1539.0 271.2,1542.0 266.6,1542.7C262.0,1543.5 255.1,1540.9 247.8,1541.0C240.5,1541.1 229.4,1542.2 222.8,1543.5C216.2,1544.8 208.0,1548.2 208.0,1549.0C208.0,1549.8 216.2,1548.7 222.8,1548.5C229.4,1548.3 239.9,1547.4 247.8,1548.0C255.7,1548.6 266.3,1550.5 270.3,1552.2C274.3,1553.9 274.1,1556.5 271.6,1558.0C269.1,1559.5 261.4,1559.8 255.3,1561.0C249.2,1562.2 242.8,1563.5 235.3,1565.2C227.8,1567.0 216.9,1570.0 210.2,1571.5C203.5,1573.0 199.8,1574.6 195.2,1574.0C190.6,1573.4 186.4,1568.7 182.7,1568.0C178.9,1567.3 176.3,1568.2 172.7,1570.0C169.1,1571.8 163.7,1575.5 161.0,1578.5C158.3,1581.5 158.0,1579.8 156.4,1588.0C154.8,1596.2 153.8,1611.5 151.4,1627.8C149.0,1644.1 145.6,1676.3 142.0,1686.0C138.4,1695.7 130.7,1695.7 130.0,1686.0C129.3,1676.3 135.9,1643.8 137.6,1627.8C139.3,1611.8 140.5,1599.0 140.1,1590.2C139.7,1581.4 137.4,1579.8 135.1,1575.2C132.8,1570.6 130.0,1567.5 126.4,1562.7C122.9,1557.9 118.0,1552.2 113.8,1546.4C109.6,1540.6 105.5,1534.9 101.3,1527.6C97.1,1520.3 92.3,1510.9 88.8,1502.6C85.2,1494.3 82.1,1486.4 80.0,1477.6C77.9,1468.8 76.7,1458.5 76.3,1450.0C75.9,1441.5 76.5,1433.6 77.5,1426.6C78.5,1419.6 80.2,1414.1 82.5,1407.8C84.8,1401.5 88.2,1394.2 91.3,1389.0C94.4,1383.8 98.2,1381.7 101.3,1376.5C104.4,1371.3 108.0,1364.0 110.1,1357.7C112.2,1351.5 113.0,1345.2 113.8,1339.0C114.6,1332.8 114.7,1326.7 115.1,1320.2C115.5,1313.7 113.0,1308.9 116.3,1300.1C119.6,1291.3 129.9,1274.7 135.1,1267.6C140.3,1260.5 143.0,1260.7 147.6,1257.6C152.2,1254.5 158.0,1251.4 162.7,1248.8C167.4,1246.2 170.2,1243.4 176.0,1242.0C181.8,1240.6 190.9,1241.0 197.7,1240.5C204.4,1240.0 211.7,1238.0 216.5,1238.8C221.3,1239.5 225.0,1241.9 226.5,1245.0Z"/></clipPath><clipPath id="m2c"><path d="M430.2,1248.8C430.6,1251.9 430.2,1257.3 429.0,1261.3C427.8,1265.3 424.6,1269.0 422.7,1272.6C420.8,1276.1 419.8,1279.3 417.7,1282.6C415.6,1285.9 412.1,1289.5 410.2,1292.6C408.3,1295.7 407.1,1297.9 406.5,1301.4C405.9,1305.0 405.6,1311.6 406.5,1313.9C407.4,1316.2 409.1,1316.0 412.0,1315.0C414.9,1314.0 420.3,1310.1 424.0,1307.6C427.7,1305.1 430.9,1300.9 434.0,1300.1C437.1,1299.3 440.8,1300.9 442.8,1302.6C444.8,1304.3 443.9,1307.8 446.0,1310.1C448.1,1312.4 454.8,1314.8 455.3,1316.7C455.8,1318.6 453.2,1319.6 449.0,1321.4C444.8,1323.2 435.0,1325.4 430.2,1327.7C425.4,1330.0 422.7,1332.3 420.2,1335.2C417.7,1338.1 416.9,1342.1 415.2,1345.2C413.5,1348.3 411.2,1350.9 410.2,1354.0C409.2,1357.1 409.0,1359.2 409.0,1364.0C409.0,1368.8 409.2,1376.5 410.2,1382.8C411.2,1389.0 414.1,1395.2 415.2,1401.5C416.2,1407.8 416.9,1412.7 416.5,1420.3C416.1,1427.9 413.8,1440.4 412.7,1447.0C411.6,1453.6 409.3,1456.2 409.7,1460.0C410.1,1463.8 413.6,1466.5 415.2,1470.0C416.8,1473.5 416.7,1476.9 419.0,1481.3C421.3,1485.7 426.5,1489.6 429.0,1496.3C431.5,1503.0 432.8,1514.9 434.0,1521.4C435.2,1527.9 434.5,1531.6 436.5,1535.2C438.5,1538.8 442.8,1542.0 446.0,1543.0C449.2,1544.0 451.3,1542.2 456.0,1541.0C460.7,1539.8 468.0,1536.9 474.1,1535.8C480.2,1534.7 488.4,1533.9 492.8,1534.6C497.2,1535.3 500.0,1537.7 500.4,1540.2C500.8,1542.7 498.6,1547.1 495.3,1549.5C492.0,1551.9 485.5,1553.0 480.3,1554.5C475.1,1556.0 466.0,1555.7 464.0,1558.5C462.0,1561.3 469.9,1571.1 468.5,1571.5C467.1,1571.9 461.7,1561.8 455.3,1561.0C448.9,1560.2 436.9,1565.2 430.2,1566.5C423.5,1567.8 418.9,1569.8 415.2,1569.0C411.4,1568.2 409.8,1562.0 407.7,1562.0C405.6,1562.0 405.2,1566.6 402.7,1569.0C400.2,1571.4 395.3,1573.7 392.7,1576.5C390.1,1579.3 388.2,1579.5 387.0,1586.0C385.8,1592.5 386.1,1604.2 385.2,1615.3C384.3,1626.4 382.6,1641.0 381.4,1652.8C380.2,1664.6 380.7,1680.5 378.0,1686.0C375.3,1691.5 366.5,1691.5 365.0,1686.0C363.5,1680.5 367.8,1664.6 368.9,1652.8C370.0,1641.0 371.6,1625.7 371.4,1615.3C371.2,1604.9 369.3,1596.0 367.6,1590.2C365.9,1584.4 364.3,1584.0 361.4,1580.2C358.5,1576.5 353.7,1571.0 350.1,1567.7C346.6,1564.4 343.9,1561.7 340.1,1560.2C336.4,1558.7 331.6,1560.6 327.6,1558.9C323.6,1557.2 318.6,1554.4 316.3,1550.2C314.0,1546.0 314.6,1540.8 313.8,1533.9C313.0,1527.0 313.2,1517.2 311.3,1508.9C309.4,1500.6 305.2,1492.2 302.5,1483.8C299.8,1475.4 296.9,1466.1 295.0,1458.8C293.1,1451.5 292.1,1446.5 291.3,1440.0C290.6,1433.5 290.3,1425.4 290.5,1420.0C290.7,1414.6 291.1,1413.0 292.5,1407.8C293.9,1402.6 296.1,1394.8 298.8,1389.0C301.5,1383.2 305.1,1377.9 308.8,1372.7C312.6,1367.5 319.4,1364.4 321.3,1357.7C323.2,1351.0 320.1,1341.1 320.1,1332.7C320.1,1324.3 318.3,1317.7 321.3,1307.6C324.3,1297.5 333.2,1280.5 338.0,1272.0C342.8,1263.5 345.2,1260.8 350.1,1256.3C355.0,1251.8 361.6,1247.9 367.6,1245.0C373.7,1242.1 380.1,1239.6 386.4,1238.8C392.7,1238.0 400.4,1240.4 405.2,1240.0C410.0,1239.6 411.6,1235.9 415.2,1236.3C418.8,1236.7 424.0,1240.4 426.5,1242.5C429.0,1244.6 429.8,1245.7 430.2,1248.8Z"/></clipPath></defs>
<rect x="62.85" y="1223.85" width="441.8" height="463.9" fill="#1ca7d2" stroke="#000" stroke-width="3.7"/>
<filter id="bluetex" filterUnits="userSpaceOnUse" x="65" y="1226" width="438" height="460" color-interpolation-filters="sRGB"><feTurbulence type="fractalNoise" baseFrequency="0.3" numOctaves="2" seed="7"/><feColorMatrix type="matrix" values="0 0 0 0 0.235 0 0 0 0 0.714 0 0 0 0 0.859 14 0 0 0 -9.8"/></filter><rect x="65" y="1226" width="438" height="460" filter="url(#bluetex)"/>
<clipPath id="photoc"><rect x="64.7" y="1225.7" width="438.1" height="460.2"/></clipPath><g clip-path="url(#photoc)">
<path d="M226.5,1245.0C228.0,1248.1 226.3,1253.4 225.3,1257.6C224.3,1261.8 222.2,1265.9 220.3,1270.1C218.4,1274.3 216.7,1278.4 214.0,1282.6C211.3,1286.8 206.7,1292.0 204.0,1295.1C201.3,1298.2 198.9,1299.3 197.7,1301.4C196.4,1303.5 196.3,1304.8 196.5,1307.6C196.7,1310.4 196.1,1317.6 199.0,1318.0C201.9,1318.4 209.1,1312.5 214.0,1310.0C218.9,1307.5 223.5,1305.4 228.4,1303.0C233.3,1300.6 239.2,1296.5 243.3,1295.7C247.4,1295.0 251.9,1296.1 253.2,1298.5C254.5,1300.9 253.5,1307.0 251.0,1310.0C248.5,1313.0 243.1,1313.6 238.3,1316.6C233.5,1319.6 226.7,1323.8 222.0,1328.0C217.3,1332.2 213.8,1337.5 210.0,1342.0C206.2,1346.5 200.6,1350.3 199.0,1355.0C197.4,1359.7 199.4,1364.5 200.2,1370.2C201.0,1375.9 202.9,1382.7 204.0,1389.0C205.1,1395.3 206.3,1400.5 206.5,1407.8C206.7,1415.1 206.4,1426.3 205.2,1432.8C203.9,1439.3 201.1,1440.6 199.0,1447.0C196.9,1453.4 192.7,1465.2 192.5,1471.3C192.3,1477.4 196.4,1478.6 197.7,1483.8C199.0,1489.0 200.2,1495.7 200.2,1502.6C200.2,1509.5 198.9,1519.8 197.7,1525.0C196.5,1530.2 190.6,1532.5 193.0,1534.0C195.4,1535.5 204.9,1534.8 212.0,1534.0C219.1,1533.2 227.2,1530.6 235.3,1529.5C243.4,1528.4 253.6,1526.3 260.3,1527.5C267.0,1528.7 274.2,1534.0 275.3,1536.5C276.4,1539.0 271.2,1542.0 266.6,1542.7C262.0,1543.5 255.1,1540.9 247.8,1541.0C240.5,1541.1 229.4,1542.2 222.8,1543.5C216.2,1544.8 208.0,1548.2 208.0,1549.0C208.0,1549.8 216.2,1548.7 222.8,1548.5C229.4,1548.3 239.9,1547.4 247.8,1548.0C255.7,1548.6 266.3,1550.5 270.3,1552.2C274.3,1553.9 274.1,1556.5 271.6,1558.0C269.1,1559.5 261.4,1559.8 255.3,1561.0C249.2,1562.2 242.8,1563.5 235.3,1565.2C227.8,1567.0 216.9,1570.0 210.2,1571.5C203.5,1573.0 199.8,1574.6 195.2,1574.0C190.6,1573.4 186.4,1568.7 182.7,1568.0C178.9,1567.3 176.3,1568.2 172.7,1570.0C169.1,1571.8 163.7,1575.5 161.0,1578.5C158.3,1581.5 158.0,1579.8 156.4,1588.0C154.8,1596.2 153.8,1611.5 151.4,1627.8C149.0,1644.1 145.6,1676.3 142.0,1686.0C138.4,1695.7 130.7,1695.7 130.0,1686.0C129.3,1676.3 135.9,1643.8 137.6,1627.8C139.3,1611.8 140.5,1599.0 140.1,1590.2C139.7,1581.4 137.4,1579.8 135.1,1575.2C132.8,1570.6 130.0,1567.5 126.4,1562.7C122.9,1557.9 118.0,1552.2 113.8,1546.4C109.6,1540.6 105.5,1534.9 101.3,1527.6C97.1,1520.3 92.3,1510.9 88.8,1502.6C85.2,1494.3 82.1,1486.4 80.0,1477.6C77.9,1468.8 76.7,1458.5 76.3,1450.0C75.9,1441.5 76.5,1433.6 77.5,1426.6C78.5,1419.6 80.2,1414.1 82.5,1407.8C84.8,1401.5 88.2,1394.2 91.3,1389.0C94.4,1383.8 98.2,1381.7 101.3,1376.5C104.4,1371.3 108.0,1364.0 110.1,1357.7C112.2,1351.5 113.0,1345.2 113.8,1339.0C114.6,1332.8 114.7,1326.7 115.1,1320.2C115.5,1313.7 113.0,1308.9 116.3,1300.1C119.6,1291.3 129.9,1274.7 135.1,1267.6C140.3,1260.5 143.0,1260.7 147.6,1257.6C152.2,1254.5 158.0,1251.4 162.7,1248.8C167.4,1246.2 170.2,1243.4 176.0,1242.0C181.8,1240.6 190.9,1241.0 197.7,1240.5C204.4,1240.0 211.7,1238.0 216.5,1238.8C221.3,1239.5 225.0,1241.9 226.5,1245.0Z" fill="#1590bd" transform="translate(3,3)" filter="url(#mblur)" opacity="0.5"/>
<path d="M430.2,1248.8C430.6,1251.9 430.2,1257.3 429.0,1261.3C427.8,1265.3 424.6,1269.0 422.7,1272.6C420.8,1276.1 419.8,1279.3 417.7,1282.6C415.6,1285.9 412.1,1289.5 410.2,1292.6C408.3,1295.7 407.1,1297.9 406.5,1301.4C405.9,1305.0 405.6,1311.6 406.5,1313.9C407.4,1316.2 409.1,1316.0 412.0,1315.0C414.9,1314.0 420.3,1310.1 424.0,1307.6C427.7,1305.1 430.9,1300.9 434.0,1300.1C437.1,1299.3 440.8,1300.9 442.8,1302.6C444.8,1304.3 443.9,1307.8 446.0,1310.1C448.1,1312.4 454.8,1314.8 455.3,1316.7C455.8,1318.6 453.2,1319.6 449.0,1321.4C444.8,1323.2 435.0,1325.4 430.2,1327.7C425.4,1330.0 422.7,1332.3 420.2,1335.2C417.7,1338.1 416.9,1342.1 415.2,1345.2C413.5,1348.3 411.2,1350.9 410.2,1354.0C409.2,1357.1 409.0,1359.2 409.0,1364.0C409.0,1368.8 409.2,1376.5 410.2,1382.8C411.2,1389.0 414.1,1395.2 415.2,1401.5C416.2,1407.8 416.9,1412.7 416.5,1420.3C416.1,1427.9 413.8,1440.4 412.7,1447.0C411.6,1453.6 409.3,1456.2 409.7,1460.0C410.1,1463.8 413.6,1466.5 415.2,1470.0C416.8,1473.5 416.7,1476.9 419.0,1481.3C421.3,1485.7 426.5,1489.6 429.0,1496.3C431.5,1503.0 432.8,1514.9 434.0,1521.4C435.2,1527.9 434.5,1531.6 436.5,1535.2C438.5,1538.8 442.8,1542.0 446.0,1543.0C449.2,1544.0 451.3,1542.2 456.0,1541.0C460.7,1539.8 468.0,1536.9 474.1,1535.8C480.2,1534.7 488.4,1533.9 492.8,1534.6C497.2,1535.3 500.0,1537.7 500.4,1540.2C500.8,1542.7 498.6,1547.1 495.3,1549.5C492.0,1551.9 485.5,1553.0 480.3,1554.5C475.1,1556.0 466.0,1555.7 464.0,1558.5C462.0,1561.3 469.9,1571.1 468.5,1571.5C467.1,1571.9 461.7,1561.8 455.3,1561.0C448.9,1560.2 436.9,1565.2 430.2,1566.5C423.5,1567.8 418.9,1569.8 415.2,1569.0C411.4,1568.2 409.8,1562.0 407.7,1562.0C405.6,1562.0 405.2,1566.6 402.7,1569.0C400.2,1571.4 395.3,1573.7 392.7,1576.5C390.1,1579.3 388.2,1579.5 387.0,1586.0C385.8,1592.5 386.1,1604.2 385.2,1615.3C384.3,1626.4 382.6,1641.0 381.4,1652.8C380.2,1664.6 380.7,1680.5 378.0,1686.0C375.3,1691.5 366.5,1691.5 365.0,1686.0C363.5,1680.5 367.8,1664.6 368.9,1652.8C370.0,1641.0 371.6,1625.7 371.4,1615.3C371.2,1604.9 369.3,1596.0 367.6,1590.2C365.9,1584.4 364.3,1584.0 361.4,1580.2C358.5,1576.5 353.7,1571.0 350.1,1567.7C346.6,1564.4 343.9,1561.7 340.1,1560.2C336.4,1558.7 331.6,1560.6 327.6,1558.9C323.6,1557.2 318.6,1554.4 316.3,1550.2C314.0,1546.0 314.6,1540.8 313.8,1533.9C313.0,1527.0 313.2,1517.2 311.3,1508.9C309.4,1500.6 305.2,1492.2 302.5,1483.8C299.8,1475.4 296.9,1466.1 295.0,1458.8C293.1,1451.5 292.1,1446.5 291.3,1440.0C290.6,1433.5 290.3,1425.4 290.5,1420.0C290.7,1414.6 291.1,1413.0 292.5,1407.8C293.9,1402.6 296.1,1394.8 298.8,1389.0C301.5,1383.2 305.1,1377.9 308.8,1372.7C312.6,1367.5 319.4,1364.4 321.3,1357.7C323.2,1351.0 320.1,1341.1 320.1,1332.7C320.1,1324.3 318.3,1317.7 321.3,1307.6C324.3,1297.5 333.2,1280.5 338.0,1272.0C342.8,1263.5 345.2,1260.8 350.1,1256.3C355.0,1251.8 361.6,1247.9 367.6,1245.0C373.7,1242.1 380.1,1239.6 386.4,1238.8C392.7,1238.0 400.4,1240.4 405.2,1240.0C410.0,1239.6 411.6,1235.9 415.2,1236.3C418.8,1236.7 424.0,1240.4 426.5,1242.5C429.0,1244.6 429.8,1245.7 430.2,1248.8Z" fill="#1590bd" transform="translate(3,3)" filter="url(#mblur)" opacity="0.5"/>
<path d="M226.5,1245.0C228.0,1248.1 226.3,1253.4 225.3,1257.6C224.3,1261.8 222.2,1265.9 220.3,1270.1C218.4,1274.3 216.7,1278.4 214.0,1282.6C211.3,1286.8 206.7,1292.0 204.0,1295.1C201.3,1298.2 198.9,1299.3 197.7,1301.4C196.4,1303.5 196.3,1304.8 196.5,1307.6C196.7,1310.4 196.1,1317.6 199.0,1318.0C201.9,1318.4 209.1,1312.5 214.0,1310.0C218.9,1307.5 223.5,1305.4 228.4,1303.0C233.3,1300.6 239.2,1296.5 243.3,1295.7C247.4,1295.0 251.9,1296.1 253.2,1298.5C254.5,1300.9 253.5,1307.0 251.0,1310.0C248.5,1313.0 243.1,1313.6 238.3,1316.6C233.5,1319.6 226.7,1323.8 222.0,1328.0C217.3,1332.2 213.8,1337.5 210.0,1342.0C206.2,1346.5 200.6,1350.3 199.0,1355.0C197.4,1359.7 199.4,1364.5 200.2,1370.2C201.0,1375.9 202.9,1382.7 204.0,1389.0C205.1,1395.3 206.3,1400.5 206.5,1407.8C206.7,1415.1 206.4,1426.3 205.2,1432.8C203.9,1439.3 201.1,1440.6 199.0,1447.0C196.9,1453.4 192.7,1465.2 192.5,1471.3C192.3,1477.4 196.4,1478.6 197.7,1483.8C199.0,1489.0 200.2,1495.7 200.2,1502.6C200.2,1509.5 198.9,1519.8 197.7,1525.0C196.5,1530.2 190.6,1532.5 193.0,1534.0C195.4,1535.5 204.9,1534.8 212.0,1534.0C219.1,1533.2 227.2,1530.6 235.3,1529.5C243.4,1528.4 253.6,1526.3 260.3,1527.5C267.0,1528.7 274.2,1534.0 275.3,1536.5C276.4,1539.0 271.2,1542.0 266.6,1542.7C262.0,1543.5 255.1,1540.9 247.8,1541.0C240.5,1541.1 229.4,1542.2 222.8,1543.5C216.2,1544.8 208.0,1548.2 208.0,1549.0C208.0,1549.8 216.2,1548.7 222.8,1548.5C229.4,1548.3 239.9,1547.4 247.8,1548.0C255.7,1548.6 266.3,1550.5 270.3,1552.2C274.3,1553.9 274.1,1556.5 271.6,1558.0C269.1,1559.5 261.4,1559.8 255.3,1561.0C249.2,1562.2 242.8,1563.5 235.3,1565.2C227.8,1567.0 216.9,1570.0 210.2,1571.5C203.5,1573.0 199.8,1574.6 195.2,1574.0C190.6,1573.4 186.4,1568.7 182.7,1568.0C178.9,1567.3 176.3,1568.2 172.7,1570.0C169.1,1571.8 163.7,1575.5 161.0,1578.5C158.3,1581.5 158.0,1579.8 156.4,1588.0C154.8,1596.2 153.8,1611.5 151.4,1627.8C149.0,1644.1 145.6,1676.3 142.0,1686.0C138.4,1695.7 130.7,1695.7 130.0,1686.0C129.3,1676.3 135.9,1643.8 137.6,1627.8C139.3,1611.8 140.5,1599.0 140.1,1590.2C139.7,1581.4 137.4,1579.8 135.1,1575.2C132.8,1570.6 130.0,1567.5 126.4,1562.7C122.9,1557.9 118.0,1552.2 113.8,1546.4C109.6,1540.6 105.5,1534.9 101.3,1527.6C97.1,1520.3 92.3,1510.9 88.8,1502.6C85.2,1494.3 82.1,1486.4 80.0,1477.6C77.9,1468.8 76.7,1458.5 76.3,1450.0C75.9,1441.5 76.5,1433.6 77.5,1426.6C78.5,1419.6 80.2,1414.1 82.5,1407.8C84.8,1401.5 88.2,1394.2 91.3,1389.0C94.4,1383.8 98.2,1381.7 101.3,1376.5C104.4,1371.3 108.0,1364.0 110.1,1357.7C112.2,1351.5 113.0,1345.2 113.8,1339.0C114.6,1332.8 114.7,1326.7 115.1,1320.2C115.5,1313.7 113.0,1308.9 116.3,1300.1C119.6,1291.3 129.9,1274.7 135.1,1267.6C140.3,1260.5 143.0,1260.7 147.6,1257.6C152.2,1254.5 158.0,1251.4 162.7,1248.8C167.4,1246.2 170.2,1243.4 176.0,1242.0C181.8,1240.6 190.9,1241.0 197.7,1240.5C204.4,1240.0 211.7,1238.0 216.5,1238.8C221.3,1239.5 225.0,1241.9 226.5,1245.0Z" fill="#d9c5c8"/>
<path d="M430.2,1248.8C430.6,1251.9 430.2,1257.3 429.0,1261.3C427.8,1265.3 424.6,1269.0 422.7,1272.6C420.8,1276.1 419.8,1279.3 417.7,1282.6C415.6,1285.9 412.1,1289.5 410.2,1292.6C408.3,1295.7 407.1,1297.9 406.5,1301.4C405.9,1305.0 405.6,1311.6 406.5,1313.9C407.4,1316.2 409.1,1316.0 412.0,1315.0C414.9,1314.0 420.3,1310.1 424.0,1307.6C427.7,1305.1 430.9,1300.9 434.0,1300.1C437.1,1299.3 440.8,1300.9 442.8,1302.6C444.8,1304.3 443.9,1307.8 446.0,1310.1C448.1,1312.4 454.8,1314.8 455.3,1316.7C455.8,1318.6 453.2,1319.6 449.0,1321.4C444.8,1323.2 435.0,1325.4 430.2,1327.7C425.4,1330.0 422.7,1332.3 420.2,1335.2C417.7,1338.1 416.9,1342.1 415.2,1345.2C413.5,1348.3 411.2,1350.9 410.2,1354.0C409.2,1357.1 409.0,1359.2 409.0,1364.0C409.0,1368.8 409.2,1376.5 410.2,1382.8C411.2,1389.0 414.1,1395.2 415.2,1401.5C416.2,1407.8 416.9,1412.7 416.5,1420.3C416.1,1427.9 413.8,1440.4 412.7,1447.0C411.6,1453.6 409.3,1456.2 409.7,1460.0C410.1,1463.8 413.6,1466.5 415.2,1470.0C416.8,1473.5 416.7,1476.9 419.0,1481.3C421.3,1485.7 426.5,1489.6 429.0,1496.3C431.5,1503.0 432.8,1514.9 434.0,1521.4C435.2,1527.9 434.5,1531.6 436.5,1535.2C438.5,1538.8 442.8,1542.0 446.0,1543.0C449.2,1544.0 451.3,1542.2 456.0,1541.0C460.7,1539.8 468.0,1536.9 474.1,1535.8C480.2,1534.7 488.4,1533.9 492.8,1534.6C497.2,1535.3 500.0,1537.7 500.4,1540.2C500.8,1542.7 498.6,1547.1 495.3,1549.5C492.0,1551.9 485.5,1553.0 480.3,1554.5C475.1,1556.0 466.0,1555.7 464.0,1558.5C462.0,1561.3 469.9,1571.1 468.5,1571.5C467.1,1571.9 461.7,1561.8 455.3,1561.0C448.9,1560.2 436.9,1565.2 430.2,1566.5C423.5,1567.8 418.9,1569.8 415.2,1569.0C411.4,1568.2 409.8,1562.0 407.7,1562.0C405.6,1562.0 405.2,1566.6 402.7,1569.0C400.2,1571.4 395.3,1573.7 392.7,1576.5C390.1,1579.3 388.2,1579.5 387.0,1586.0C385.8,1592.5 386.1,1604.2 385.2,1615.3C384.3,1626.4 382.6,1641.0 381.4,1652.8C380.2,1664.6 380.7,1680.5 378.0,1686.0C375.3,1691.5 366.5,1691.5 365.0,1686.0C363.5,1680.5 367.8,1664.6 368.9,1652.8C370.0,1641.0 371.6,1625.7 371.4,1615.3C371.2,1604.9 369.3,1596.0 367.6,1590.2C365.9,1584.4 364.3,1584.0 361.4,1580.2C358.5,1576.5 353.7,1571.0 350.1,1567.7C346.6,1564.4 343.9,1561.7 340.1,1560.2C336.4,1558.7 331.6,1560.6 327.6,1558.9C323.6,1557.2 318.6,1554.4 316.3,1550.2C314.0,1546.0 314.6,1540.8 313.8,1533.9C313.0,1527.0 313.2,1517.2 311.3,1508.9C309.4,1500.6 305.2,1492.2 302.5,1483.8C299.8,1475.4 296.9,1466.1 295.0,1458.8C293.1,1451.5 292.1,1446.5 291.3,1440.0C290.6,1433.5 290.3,1425.4 290.5,1420.0C290.7,1414.6 291.1,1413.0 292.5,1407.8C293.9,1402.6 296.1,1394.8 298.8,1389.0C301.5,1383.2 305.1,1377.9 308.8,1372.7C312.6,1367.5 319.4,1364.4 321.3,1357.7C323.2,1351.0 320.1,1341.1 320.1,1332.7C320.1,1324.3 318.3,1317.7 321.3,1307.6C324.3,1297.5 333.2,1280.5 338.0,1272.0C342.8,1263.5 345.2,1260.8 350.1,1256.3C355.0,1251.8 361.6,1247.9 367.6,1245.0C373.7,1242.1 380.1,1239.6 386.4,1238.8C392.7,1238.0 400.4,1240.4 405.2,1240.0C410.0,1239.6 411.6,1235.9 415.2,1236.3C418.8,1236.7 424.0,1240.4 426.5,1242.5C429.0,1244.6 429.8,1245.7 430.2,1248.8Z" fill="#d8c6ca"/>
<g clip-path="url(#m1c)" filter="url(#mblur)"><ellipse cx="192" cy="1470" rx="12" ry="45" fill="#bcaeb6"/><ellipse cx="135" cy="1500" rx="40" ry="40" fill="#e2cdd0"/><ellipse cx="160" cy="1330" rx="30" ry="25" fill="#d6bcc2"/><ellipse cx="150" cy="1560" rx="30" ry="14" fill="#c8b0b8"/><ellipse cx="85" cy="1440" rx="8" ry="50" fill="#cbb8bd"/></g>
<g clip-path="url(#m2c)" filter="url(#mblur)"><ellipse cx="360" cy="1430" rx="45" ry="60" fill="#ddc9cd"/><ellipse cx="400" cy="1400" rx="12" ry="60" fill="#d2c2c6"/><ellipse cx="360" cy="1330" rx="30" ry="20" fill="#d4bcc2"/><ellipse cx="390" cy="1545" rx="25" ry="14" fill="#c9b2ba"/><ellipse cx="300" cy="1440" rx="8" ry="40" fill="#cbbac0"/></g>
<g clip-path="url(#m1c)"><filter id="m1tex" filterUnits="userSpaceOnUse" x="70" y="1235" width="210" height="455" color-interpolation-filters="sRGB"><feTurbulence type="fractalNoise" baseFrequency="0.45" numOctaves="1" seed="3"/><feColorMatrix type="matrix" values="0 0 0 0 0.925 0 0 0 0 0.886 0 0 0 0 0.890 16 0 0 0 -10.6"/></filter><rect x="70" y="1235" width="210" height="455" filter="url(#m1tex)"/></g>
<g clip-path="url(#m2c)"><filter id="m2tex" filterUnits="userSpaceOnUse" x="285" y="1235" width="220" height="455" color-interpolation-filters="sRGB"><feTurbulence type="fractalNoise" baseFrequency="0.45" numOctaves="1" seed="4"/><feColorMatrix type="matrix" values="0 0 0 0 0.925 0 0 0 0 0.886 0 0 0 0 0.890 16 0 0 0 -10.6"/></filter><rect x="285" y="1235" width="220" height="455" filter="url(#m2tex)"/></g>
<path d="M130.1,1273.8C126.3,1270.2 122.8,1264.3 116.3,1261.3C109.8,1258.3 98.6,1255.5 91.3,1255.7C84.0,1255.9 76.5,1259.6 72.5,1262.6C68.5,1265.6 67.5,1270.5 67.5,1273.8C67.5,1277.1 68.5,1280.3 72.5,1282.6C76.5,1284.9 84.6,1285.5 91.3,1287.6C98.0,1289.7 107.4,1293.0 112.6,1295.1C117.8,1297.2 118.8,1300.1 122.6,1300.1C126.3,1300.1 132.4,1298.0 135.1,1295.1C137.8,1292.2 139.7,1286.1 138.9,1282.6C138.1,1279.0 133.9,1277.3 130.1,1273.8Z" fill="#d5d5d0"/>
<path d="M290.0,1270.1C292.6,1267.4 299.4,1265.5 305.0,1266.3C310.6,1267.1 320.9,1270.3 323.8,1275.1C326.7,1279.9 323.2,1289.7 322.6,1295.1C322.0,1300.5 323.0,1305.3 320.1,1307.6C317.2,1309.9 309.6,1309.7 305.0,1308.9C300.4,1308.1 295.1,1307.0 292.5,1302.6C289.9,1298.2 289.9,1288.0 289.5,1282.6C289.1,1277.2 287.4,1272.8 290.0,1270.1Z" fill="#d0d3cf"/>
<path d="M286.3,1251.3C287.8,1248.8 293.6,1242.9 298.8,1241.3C304.0,1239.7 311.4,1240.5 317.6,1241.9C323.9,1243.4 330.9,1246.8 336.3,1250.0C341.7,1253.2 347.0,1258.0 350.1,1261.3C353.2,1264.6 355.1,1267.8 355.1,1270.1C355.1,1272.4 353.2,1275.3 350.1,1275.1C347.0,1274.9 340.7,1271.1 336.3,1268.8C331.9,1266.5 329.0,1263.4 323.8,1261.3C318.6,1259.2 310.6,1257.1 305.0,1256.3C299.4,1255.5 293.1,1257.1 290.0,1256.3C286.9,1255.5 284.8,1253.8 286.3,1251.3Z" fill="#d8d8d3"/>
<path d="M125,1292 Q130,1282 136,1290" fill="#d8a8b0"/>
<ellipse cx="174" cy="1246" rx="5" ry="3.5" fill="#6a5058"/>
<ellipse cx="383" cy="1242.5" rx="4.5" ry="3" fill="#6a5058"/>
<ellipse cx="120" cy="1520" rx="12.5" ry="24" fill="#e6d3d6" filter="url(#mblur)" opacity="0.9"/>
<ellipse cx="120" cy="1520" rx="10" ry="20" fill="#e4d0d3"/>
<ellipse cx="357.6" cy="1495" rx="12" ry="8" fill="#e8dcde"/>
</g>
<text x="426.86" y="1652.80" font-size="34.50" textLength="68.05" lengthAdjust="spacingAndGlyphs">1cm</text>
<path d="M442.8,1660.4V1666.5H479.7V1660.4" fill="none" stroke="#000" stroke-width="3.2"/>
<text x="541.91" y="1216.40" font-size="86.00" textLength="30.90" lengthAdjust="spacingAndGlyphs">f</text>
<line x1="650.50" y1="1279.60" x2="650.50" y2="1647.10" stroke="#000" stroke-width="3"/>
<line x1="640.70" y1="1645.60" x2="650.50" y2="1645.60" stroke="#000" stroke-width="3"/>
<text x="621.51" y="1654.90" font-size="29.30" textLength="15.32" lengthAdjust="spacingAndGlyphs">0</text>
<line x1="640.70" y1="1554.47" x2="650.50" y2="1554.47" stroke="#000" stroke-width="3"/>
<text x="590.88" y="1563.77" font-size="29.30" textLength="45.95" lengthAdjust="spacingAndGlyphs">200</text>
<line x1="640.70" y1="1463.35" x2="650.50" y2="1463.35" stroke="#000" stroke-width="3"/>
<text x="590.88" y="1472.65" font-size="29.30" textLength="45.95" lengthAdjust="spacingAndGlyphs">400</text>
<line x1="640.70" y1="1372.22" x2="650.50" y2="1372.22" stroke="#000" stroke-width="3"/>
<text x="590.88" y="1381.52" font-size="29.30" textLength="45.95" lengthAdjust="spacingAndGlyphs">600</text>
<line x1="640.70" y1="1281.10" x2="650.50" y2="1281.10" stroke="#000" stroke-width="3"/>
<text x="590.88" y="1290.40" font-size="29.30" textLength="45.95" lengthAdjust="spacingAndGlyphs">800</text>
<line x1="640.70" y1="1645.60" x2="1197.50" y2="1645.60" stroke="#000" stroke-width="3"/>
<line x1="650.50" y1="1645.60" x2="650.50" y2="1655.40" stroke="#000" stroke-width="3"/>
<text x="642.86" y="1686.60" font-size="29.30" textLength="15.32" lengthAdjust="spacingAndGlyphs">0</text>
<line x1="832.33" y1="1645.60" x2="832.33" y2="1655.40" stroke="#000" stroke-width="3"/>
<text x="816.71" y="1686.60" font-size="29.30" textLength="30.64" lengthAdjust="spacingAndGlyphs">10</text>
<line x1="1014.17" y1="1645.60" x2="1014.17" y2="1655.40" stroke="#000" stroke-width="3"/>
<text x="998.94" y="1686.60" font-size="29.30" textLength="30.64" lengthAdjust="spacingAndGlyphs">20</text>
<line x1="1196.00" y1="1645.60" x2="1196.00" y2="1655.40" stroke="#000" stroke-width="3"/>
<text x="1180.93" y="1686.60" font-size="29.30" textLength="30.64" lengthAdjust="spacingAndGlyphs">30</text>
<polyline points="650.5,1645.6 668.7,1642.0 723.2,1638.8 777.8,1620.5 832.3,1594.6 886.9,1563.6 941.4,1522.6 996.0,1499.8 1050.5,1469.3 1105.1,1420.1 1159.6,1383.6" fill="none" stroke="#FF8000" stroke-width="4" stroke-linejoin="round"/>
<polyline points="650.5,1645.6 668.7,1643.3 723.2,1641.0 777.8,1625.1 832.3,1613.7 886.9,1605.5 941.4,1597.8 996.0,1584.1 1050.5,1565.0 1105.1,1549.9 1159.6,1528.0" fill="none" stroke="#00C000" stroke-width="4" stroke-linejoin="round"/>
<line x1="832.33" y1="1605.50" x2="832.33" y2="1621.91" stroke="#00C000" stroke-width="3.4"/><line x1="825.33" y1="1605.50" x2="839.33" y2="1605.50" stroke="#00C000" stroke-width="3.4"/><line x1="825.33" y1="1621.91" x2="839.33" y2="1621.91" stroke="#00C000" stroke-width="3.4"/>
<line x1="886.88" y1="1596.39" x2="886.88" y2="1614.62" stroke="#00C000" stroke-width="3.4"/><line x1="879.88" y1="1596.39" x2="893.88" y2="1596.39" stroke="#00C000" stroke-width="3.4"/><line x1="879.88" y1="1614.62" x2="893.88" y2="1614.62" stroke="#00C000" stroke-width="3.4"/>
<line x1="941.43" y1="1583.63" x2="941.43" y2="1611.88" stroke="#00C000" stroke-width="3.4"/><line x1="934.43" y1="1583.63" x2="948.43" y2="1583.63" stroke="#00C000" stroke-width="3.4"/><line x1="934.43" y1="1611.88" x2="948.43" y2="1611.88" stroke="#00C000" stroke-width="3.4"/>
<line x1="995.98" y1="1564.50" x2="995.98" y2="1603.68" stroke="#00C000" stroke-width="3.4"/><line x1="988.98" y1="1564.50" x2="1002.98" y2="1564.50" stroke="#00C000" stroke-width="3.4"/><line x1="988.98" y1="1603.68" x2="1002.98" y2="1603.68" stroke="#00C000" stroke-width="3.4"/>
<line x1="1050.53" y1="1550.37" x2="1050.53" y2="1579.53" stroke="#00C000" stroke-width="3.4"/><line x1="1043.53" y1="1550.37" x2="1057.53" y2="1550.37" stroke="#00C000" stroke-width="3.4"/><line x1="1043.53" y1="1579.53" x2="1057.53" y2="1579.53" stroke="#00C000" stroke-width="3.4"/>
<line x1="1105.08" y1="1530.33" x2="1105.08" y2="1569.51" stroke="#00C000" stroke-width="3.4"/><line x1="1098.08" y1="1530.33" x2="1112.08" y2="1530.33" stroke="#00C000" stroke-width="3.4"/><line x1="1098.08" y1="1569.51" x2="1112.08" y2="1569.51" stroke="#00C000" stroke-width="3.4"/>
<line x1="1159.63" y1="1512.10" x2="1159.63" y2="1544.00" stroke="#00C000" stroke-width="3.4"/><line x1="1152.63" y1="1512.10" x2="1166.63" y2="1512.10" stroke="#00C000" stroke-width="3.4"/><line x1="1152.63" y1="1544.00" x2="1166.63" y2="1544.00" stroke="#00C000" stroke-width="3.4"/>
<circle cx="650.5" cy="1645.6" r="7.5" fill="#00C000"/>
<circle cx="668.7" cy="1643.3" r="7.5" fill="#00C000"/>
<circle cx="723.2" cy="1641.0" r="7.5" fill="#00C000"/>
<circle cx="777.8" cy="1625.1" r="7.5" fill="#00C000"/>
<circle cx="832.3" cy="1613.7" r="7.5" fill="#00C000"/>
<circle cx="886.9" cy="1605.5" r="7.5" fill="#00C000"/>
<circle cx="941.4" cy="1597.8" r="7.5" fill="#00C000"/>
<circle cx="996.0" cy="1584.1" r="7.5" fill="#00C000"/>
<circle cx="1050.5" cy="1565.0" r="7.5" fill="#00C000"/>
<circle cx="1105.1" cy="1549.9" r="7.5" fill="#00C000"/>
<circle cx="1159.6" cy="1528.0" r="7.5" fill="#00C000"/>
<line x1="832.33" y1="1587.74" x2="832.33" y2="1601.40" stroke="#FF8000" stroke-width="3.4"/><line x1="825.33" y1="1587.74" x2="839.33" y2="1587.74" stroke="#FF8000" stroke-width="3.4"/><line x1="825.33" y1="1601.40" x2="839.33" y2="1601.40" stroke="#FF8000" stroke-width="3.4"/>
<line x1="886.88" y1="1551.74" x2="886.88" y2="1575.43" stroke="#FF8000" stroke-width="3.4"/><line x1="879.88" y1="1551.74" x2="893.88" y2="1551.74" stroke="#FF8000" stroke-width="3.4"/><line x1="879.88" y1="1575.43" x2="893.88" y2="1575.43" stroke="#FF8000" stroke-width="3.4"/>
<line x1="941.43" y1="1502.53" x2="941.43" y2="1542.63" stroke="#FF8000" stroke-width="3.4"/><line x1="934.43" y1="1502.53" x2="948.43" y2="1502.53" stroke="#FF8000" stroke-width="3.4"/><line x1="934.43" y1="1542.63" x2="948.43" y2="1542.63" stroke="#FF8000" stroke-width="3.4"/>
<line x1="995.98" y1="1482.49" x2="995.98" y2="1517.11" stroke="#FF8000" stroke-width="3.4"/><line x1="988.98" y1="1482.49" x2="1002.98" y2="1482.49" stroke="#FF8000" stroke-width="3.4"/><line x1="988.98" y1="1517.11" x2="1002.98" y2="1517.11" stroke="#FF8000" stroke-width="3.4"/>
<line x1="1050.53" y1="1447.40" x2="1050.53" y2="1491.14" stroke="#FF8000" stroke-width="3.4"/><line x1="1043.53" y1="1447.40" x2="1057.53" y2="1447.40" stroke="#FF8000" stroke-width="3.4"/><line x1="1043.53" y1="1491.14" x2="1057.53" y2="1491.14" stroke="#FF8000" stroke-width="3.4"/>
<line x1="1105.08" y1="1404.12" x2="1105.08" y2="1436.01" stroke="#FF8000" stroke-width="3.4"/><line x1="1098.08" y1="1404.12" x2="1112.08" y2="1404.12" stroke="#FF8000" stroke-width="3.4"/><line x1="1098.08" y1="1436.01" x2="1112.08" y2="1436.01" stroke="#FF8000" stroke-width="3.4"/>
<line x1="1159.63" y1="1358.56" x2="1159.63" y2="1408.67" stroke="#FF8000" stroke-width="3.4"/><line x1="1152.63" y1="1358.56" x2="1166.63" y2="1358.56" stroke="#FF8000" stroke-width="3.4"/><line x1="1152.63" y1="1408.67" x2="1166.63" y2="1408.67" stroke="#FF8000" stroke-width="3.4"/>
<circle cx="650.5" cy="1645.6" r="7.5" fill="#FF8000"/>
<circle cx="668.7" cy="1642.0" r="7.5" fill="#FF8000"/>
<circle cx="723.2" cy="1638.8" r="7.5" fill="#FF8000"/>
<circle cx="777.8" cy="1620.5" r="7.5" fill="#FF8000"/>
<circle cx="832.3" cy="1594.6" r="7.5" fill="#FF8000"/>
<circle cx="886.9" cy="1563.6" r="7.5" fill="#FF8000"/>
<circle cx="941.4" cy="1522.6" r="7.5" fill="#FF8000"/>
<circle cx="996.0" cy="1499.8" r="7.5" fill="#FF8000"/>
<circle cx="1050.5" cy="1469.3" r="7.5" fill="#FF8000"/>
<circle cx="1105.1" cy="1420.1" r="7.5" fill="#FF8000"/>
<circle cx="1159.6" cy="1383.6" r="7.5" fill="#FF8000"/>
<polyline points="1174.5,1379.9 1178.5,1379.9 1178.5,1526 1174.5,1526" fill="none" stroke="#000" stroke-width="1.6"/>
<text x="1185.90" y="1472.00" font-size="28.80" textLength="26.13" lengthAdjust="spacingAndGlyphs">**</text>
<text x="1147.49" y="1629.90" font-size="35.38" textLength="82.53" lengthAdjust="spacingAndGlyphs">Days</text>
<text transform="translate(574.50,1618.20) rotate(-90)" x="-0.35" y="0" font-size="31.60" textLength="313.48" lengthAdjust="spacingAndGlyphs">Tumor volume (mm3)</text>
<line x1="673.60" y1="1225.40" x2="712.00" y2="1225.40" stroke="#FF8000" stroke-width="4"/>
<circle cx="692.5" cy="1225.4" r="6" fill="#FF8000"/>
<line x1="673.60" y1="1272.50" x2="712.00" y2="1272.50" stroke="#00C000" stroke-width="4"/>
<circle cx="692.5" cy="1272.5" r="6" fill="#00C000"/>
<text x="720.32" y="1234.00" font-size="34.96" textLength="180.01" lengthAdjust="spacingAndGlyphs">LV-miR-NC</text>
<text x="720.33" y="1281.90" font-size="34.77" textLength="186.61" lengthAdjust="spacingAndGlyphs">LV-miR-601</text>
<text x="1247.75" y="1193.10" font-size="85.00" textLength="54.29" lengthAdjust="spacingAndGlyphs">g</text>
<rect x="1351.75" y="1218.85" width="35.50" height="15.20" fill="#FF8000" stroke="#000" stroke-width="3.5"/>
<rect x="1351.75" y="1268.75" width="35.50" height="15.50" fill="#00C000" stroke="#000" stroke-width="3.5"/>
<text x="1398.64" y="1238.30" font-size="34.63" textLength="178.28" lengthAdjust="spacingAndGlyphs">LV-miR-NC</text>
<text x="1398.65" y="1286.80" font-size="34.41" textLength="184.68" lengthAdjust="spacingAndGlyphs">LV-miR-601</text>
<line x1="1356.40" y1="1302.20" x2="1356.40" y2="1667.60" stroke="#000" stroke-width="3"/>
<line x1="1346.50" y1="1303.70" x2="1356.40" y2="1303.70" stroke="#000" stroke-width="3"/>
<text x="1303.07" y="1313.70" font-size="30.50" textLength="39.01" lengthAdjust="spacingAndGlyphs">1.5</text>
<line x1="1346.50" y1="1425.20" x2="1356.40" y2="1425.20" stroke="#000" stroke-width="3"/>
<text x="1303.44" y="1435.20" font-size="30.50" textLength="39.01" lengthAdjust="spacingAndGlyphs">1.0</text>
<line x1="1346.50" y1="1545.80" x2="1356.40" y2="1545.80" stroke="#000" stroke-width="3"/>
<text x="1303.07" y="1555.80" font-size="30.50" textLength="39.01" lengthAdjust="spacingAndGlyphs">0.5</text>
<line x1="1346.50" y1="1666.10" x2="1356.40" y2="1666.10" stroke="#000" stroke-width="3"/>
<text x="1303.44" y="1676.10" font-size="30.50" textLength="39.01" lengthAdjust="spacingAndGlyphs">0.0</text>
<line x1="1346.50" y1="1666.10" x2="1600.00" y2="1666.10" stroke="#000" stroke-width="3"/>
<rect x="1402.30" y="1427.50" width="50.40" height="238.60" fill="#FF8000" stroke="#000" stroke-width="3"/>
<rect x="1501.20" y="1584.10" width="51.30" height="82.00" fill="#00C000" stroke="#000" stroke-width="3"/>
<line x1="1427.30" y1="1400.00" x2="1427.30" y2="1449.80" stroke="#000" stroke-width="3"/><line x1="1413.30" y1="1400.00" x2="1441.30" y2="1400.00" stroke="#000" stroke-width="3"/><line x1="1413.30" y1="1449.80" x2="1441.30" y2="1449.80" stroke="#000" stroke-width="3"/>
<line x1="1527.00" y1="1561.70" x2="1527.00" y2="1601.40" stroke="#000" stroke-width="3"/><line x1="1513.00" y1="1561.70" x2="1541.00" y2="1561.70" stroke="#000" stroke-width="3"/><line x1="1513.00" y1="1601.40" x2="1541.00" y2="1601.40" stroke="#000" stroke-width="3"/>
<text x="1516.03" y="1566.60" font-size="28.80" textLength="21.29" lengthAdjust="spacingAndGlyphs">**</text>
<text transform="translate(1285.00,1641.00) rotate(-90)" x="-2.07" y="0" font-size="31.75" textLength="321.85" lengthAdjust="spacingAndGlyphs">Relative tumor weight</text>
<text x="1681.27" y="1192.70" font-size="85.00" textLength="51.90" lengthAdjust="spacingAndGlyphs">h</text>
<rect x="1749.05" y="1218.85" width="35.20" height="15.20" fill="#FF8000" stroke="#000" stroke-width="3.5"/>
<rect x="1749.05" y="1268.75" width="35.20" height="15.50" fill="#00C000" stroke="#000" stroke-width="3.5"/>
<text x="1795.12" y="1238.30" font-size="34.92" textLength="179.81" lengthAdjust="spacingAndGlyphs">LV-miR-NC</text>
<text x="1795.14" y="1286.80" font-size="34.62" textLength="185.80" lengthAdjust="spacingAndGlyphs">LV-miR-601</text>
<line x1="1759.80" y1="1301.30" x2="1759.80" y2="1667.60" stroke="#000" stroke-width="3"/>
<line x1="1750.20" y1="1302.80" x2="1759.80" y2="1302.80" stroke="#000" stroke-width="3"/>
<text x="1713.65" y="1313.10" font-size="31.00" textLength="31.72" lengthAdjust="spacingAndGlyphs">30</text>
<line x1="1750.20" y1="1425.20" x2="1759.80" y2="1425.20" stroke="#000" stroke-width="3"/>
<text x="1713.65" y="1435.50" font-size="31.00" textLength="31.72" lengthAdjust="spacingAndGlyphs">20</text>
<line x1="1750.20" y1="1545.80" x2="1759.80" y2="1545.80" stroke="#000" stroke-width="3"/>
<text x="1713.65" y="1556.10" font-size="31.00" textLength="31.72" lengthAdjust="spacingAndGlyphs">10</text>
<line x1="1750.20" y1="1666.10" x2="1759.80" y2="1666.10" stroke="#000" stroke-width="3"/>
<text x="1729.51" y="1676.40" font-size="31.00" textLength="15.86" lengthAdjust="spacingAndGlyphs">0</text>
<line x1="1750.20" y1="1666.10" x2="2004.00" y2="1666.10" stroke="#000" stroke-width="3"/>
<line x1="1823.70" y1="1666.10" x2="1823.70" y2="1676.50" stroke="#000" stroke-width="3"/>
<line x1="1936.50" y1="1666.10" x2="1936.50" y2="1676.50" stroke="#000" stroke-width="3"/>
<rect x="1794.70" y="1427.50" width="58.40" height="238.60" fill="#FF8000" stroke="#000" stroke-width="3"/>
<rect x="1907.50" y="1560.30" width="59.60" height="105.80" fill="#00C000" stroke="#000" stroke-width="3"/>
<line x1="1824.00" y1="1376.00" x2="1824.00" y2="1472.80" stroke="#000" stroke-width="3"/><line x1="1809.50" y1="1376.00" x2="1838.50" y2="1376.00" stroke="#000" stroke-width="3"/><line x1="1809.50" y1="1472.80" x2="1838.50" y2="1472.80" stroke="#000" stroke-width="3"/>
<line x1="1937.40" y1="1520.80" x2="1937.40" y2="1593.90" stroke="#000" stroke-width="3"/><line x1="1921.90" y1="1520.80" x2="1952.90" y2="1520.80" stroke="#000" stroke-width="3"/><line x1="1921.90" y1="1593.90" x2="1952.90" y2="1593.90" stroke="#000" stroke-width="3"/>
<text x="1926.33" y="1524.90" font-size="28.80" textLength="21.29" lengthAdjust="spacingAndGlyphs">**</text>
<text transform="translate(1697.00,1662.00) rotate(-90)" x="-2.06" y="0" font-size="31.50" textLength="363.72" lengthAdjust="spacingAndGlyphs">Lung metastasis number</text>
<text x="27.74" y="1829.60" font-size="83.00" textLength="24.91" lengthAdjust="spacingAndGlyphs">i</text>
<text x="310.81" y="1862.70" font-size="36.66" textLength="188.77" lengthAdjust="spacingAndGlyphs">LV-miR-NC</text>
<text x="1018.13" y="1862.70" font-size="36.25" textLength="194.55" lengthAdjust="spacingAndGlyphs">LV-miR-601</text>
<defs><radialGradient id="tum1" gradientUnits="userSpaceOnUse" cx="185" cy="2090" r="175"><stop offset="0" stop-color="#d092d0"/><stop offset="0.6" stop-color="#c684cc"/><stop offset="0.8" stop-color="#9468c6"/><stop offset="0.93" stop-color="#7450bc"/><stop offset="1" stop-color="#6c48b6"/></radialGradient><linearGradient id="img2g" gradientUnits="userSpaceOnUse" x1="400" y1="0" x2="745" y2="0"><stop offset="0" stop-color="#c479cc"/><stop offset="0.15" stop-color="#ac6ccc"/><stop offset="0.3" stop-color="#7e4cca"/><stop offset="1" stop-color="#7646ca"/></linearGradient><clipPath id="ci1"><rect x="50" y="1885" width="341" height="255.5"/></clipPath><clipPath id="ci2"><rect x="402.5" y="1885" width="340.5" height="255.5"/></clipPath><clipPath id="ci3"><rect x="771.5" y="1885" width="340" height="255.5"/></clipPath><clipPath id="ci4"><rect x="1124.5" y="1885" width="340" height="255.5"/></clipPath></defs>
<g clip-path="url(#ci1)">
<rect x="48" y="1883" width="345" height="260" fill="#cdd1cc"/>
<path d="M110.0,1884.0C125.0,1876.3 178.3,1879.3 185.0,1884.0C191.7,1888.7 160.8,1903.5 150.0,1912.0C139.2,1920.5 129.0,1927.8 120.0,1935.0C111.0,1942.2 101.7,1949.8 96.0,1955.0C90.3,1960.2 88.2,1966.5 86.0,1966.0C83.8,1965.5 81.5,1958.0 83.0,1952.0C84.5,1946.0 90.5,1941.3 95.0,1930.0C99.5,1918.7 95.0,1891.7 110.0,1884.0Z" fill="#dcdce4"/>
<path d="M292.0,1894.0C299.3,1885.2 326.7,1887.7 340.0,1887.0C353.3,1886.3 365.2,1885.3 372.0,1890.0C378.8,1894.7 379.3,1905.0 381.0,1915.0C382.7,1925.0 382.5,1937.5 382.0,1950.0C381.5,1962.5 379.8,1977.5 378.0,1990.0C376.2,2002.5 373.3,2016.7 371.0,2025.0C368.7,2033.3 367.5,2039.8 364.0,2040.0C360.5,2040.2 356.5,2031.7 350.0,2026.0C343.5,2020.3 332.7,2013.0 325.0,2006.0C317.3,1999.0 308.8,1995.0 304.0,1984.0C299.2,1973.0 298.0,1955.0 296.0,1940.0C294.0,1925.0 284.7,1902.8 292.0,1894.0Z" fill="#dcdce4"/>
<clipPath id="lt2c"><path d="M292.0,1894.0C299.3,1885.2 326.7,1887.7 340.0,1887.0C353.3,1886.3 365.2,1885.3 372.0,1890.0C378.8,1894.7 379.3,1905.0 381.0,1915.0C382.7,1925.0 382.5,1937.5 382.0,1950.0C381.5,1962.5 379.8,1977.5 378.0,1990.0C376.2,2002.5 373.3,2016.7 371.0,2025.0C368.7,2033.3 367.5,2039.8 364.0,2040.0C360.5,2040.2 356.5,2031.7 350.0,2026.0C343.5,2020.3 332.7,2013.0 325.0,2006.0C317.3,1999.0 308.8,1995.0 304.0,1984.0C299.2,1973.0 298.0,1955.0 296.0,1940.0C294.0,1925.0 284.7,1902.8 292.0,1894.0Z"/></clipPath><g clip-path="url(#lt2c)"><filter id="ln1" filterUnits="userSpaceOnUse" x="285" y="1884" width="100" height="156" color-interpolation-filters="sRGB"><feTurbulence type="turbulence" baseFrequency="0.13" numOctaves="1" seed="11"/><feColorMatrix type="matrix" values="0 0 0 0 0.620 0 0 0 0 0.400 0 0 0 0 0.776 -22 0 0 0 1.6"/></filter><rect x="285" y="1884" width="100" height="156" filter="url(#ln1)"/></g>
<clipPath id="lt1c"><path d="M110.0,1884.0C125.0,1876.3 178.3,1879.3 185.0,1884.0C191.7,1888.7 160.8,1903.5 150.0,1912.0C139.2,1920.5 129.0,1927.8 120.0,1935.0C111.0,1942.2 101.7,1949.8 96.0,1955.0C90.3,1960.2 88.2,1966.5 86.0,1966.0C83.8,1965.5 81.5,1958.0 83.0,1952.0C84.5,1946.0 90.5,1941.3 95.0,1930.0C99.5,1918.7 95.0,1891.7 110.0,1884.0Z"/></clipPath><g clip-path="url(#lt1c)"><filter id="ln2" filterUnits="userSpaceOnUse" x="80" y="1884" width="110" height="81" color-interpolation-filters="sRGB"><feTurbulence type="turbulence" baseFrequency="0.13" numOctaves="1" seed="12"/><feColorMatrix type="matrix" values="0 0 0 0 0.620 0 0 0 0 0.400 0 0 0 0 0.776 -22 0 0 0 1.6"/></filter><rect x="80" y="1884" width="110" height="81" filter="url(#ln2)"/></g>
<path d="M180.0,1885.0C200.8,1881.7 330.5,1884.3 346.0,1885.0C361.5,1885.7 339.6,1890.6 335.0,1892.0C330.4,1893.4 303.9,1894.4 300.0,1899.0C296.1,1903.6 295.6,1929.7 296.0,1938.0C296.4,1946.3 301.1,1975.3 304.0,1982.0C306.9,1988.7 320.0,2000.5 325.0,2005.0C330.0,2009.5 349.5,2022.1 354.0,2027.0C358.5,2031.9 368.0,2049.2 369.6,2054.0C371.2,2058.8 371.2,2069.2 369.6,2075.0C368.0,2080.8 358.5,2105.8 354.0,2112.0C349.5,2118.2 328.9,2133.7 325.0,2137.0C321.1,2140.3 338.0,2144.2 315.0,2145.0C292.0,2145.8 117.7,2146.4 95.0,2145.0C72.3,2143.6 90.1,2137.2 88.0,2131.0C85.9,2124.8 76.0,2092.6 74.0,2083.0C72.0,2073.4 68.0,2044.7 68.0,2035.0C68.0,2025.3 71.9,1993.8 74.0,1986.0C76.1,1978.2 82.6,1963.8 89.0,1957.0C95.4,1950.2 128.9,1925.2 138.0,1918.0C147.1,1910.8 159.2,1888.3 180.0,1885.0Z" fill="url(#tum1)"/>
<clipPath id="tumc"><path d="M180.0,1885.0C200.8,1881.7 330.5,1884.3 346.0,1885.0C361.5,1885.7 339.6,1890.6 335.0,1892.0C330.4,1893.4 303.9,1894.4 300.0,1899.0C296.1,1903.6 295.6,1929.7 296.0,1938.0C296.4,1946.3 301.1,1975.3 304.0,1982.0C306.9,1988.7 320.0,2000.5 325.0,2005.0C330.0,2009.5 349.5,2022.1 354.0,2027.0C358.5,2031.9 368.0,2049.2 369.6,2054.0C371.2,2058.8 371.2,2069.2 369.6,2075.0C368.0,2080.8 358.5,2105.8 354.0,2112.0C349.5,2118.2 328.9,2133.7 325.0,2137.0C321.1,2140.3 338.0,2144.2 315.0,2145.0C292.0,2145.8 117.7,2146.4 95.0,2145.0C72.3,2143.6 90.1,2137.2 88.0,2131.0C85.9,2124.8 76.0,2092.6 74.0,2083.0C72.0,2073.4 68.0,2044.7 68.0,2035.0C68.0,2025.3 71.9,1993.8 74.0,1986.0C76.1,1978.2 82.6,1963.8 89.0,1957.0C95.4,1950.2 128.9,1925.2 138.0,1918.0C147.1,1910.8 159.2,1888.3 180.0,1885.0Z"/></clipPath><g clip-path="url(#tumc)"><filter id="sp3" filterUnits="userSpaceOnUse" x="60" y="1884" width="320" height="259" color-interpolation-filters="sRGB"><feTurbulence type="fractalNoise" baseFrequency="0.4" numOctaves="1" seed="13"/><feColorMatrix type="matrix" values="0 0 0 0 0.353 0 0 0 0 0.220 0 0 0 0 0.659 -16 0 0 0 5.7"/></filter><rect x="60" y="1884" width="320" height="259" filter="url(#sp3)"/><filter id="sp4" filterUnits="userSpaceOnUse" x="60" y="1884" width="320" height="259" color-interpolation-filters="sRGB"><feTurbulence type="fractalNoise" baseFrequency="0.4" numOctaves="1" seed="14"/><feColorMatrix type="matrix" values="0 0 0 0 0.863 0 0 0 0 0.643 0 0 0 0 0.863 -16 0 0 0 5.7"/></filter><rect x="60" y="1884" width="320" height="259" filter="url(#sp4)"/></g>
<path d="M240,2073 L305,2026" stroke="#f0d4ec" stroke-width="3.5" stroke-linecap="round"/>
<ellipse cx="77" cy="1959" rx="10" ry="5.5" fill="#eef0ee" stroke="#8a8c8a" stroke-width="1" transform="rotate(-30 77 1959)"/>
</g>
<rect x="49.70" y="1884.70" width="341.20" height="256.20" fill="none" stroke="#000" stroke-width="2.6"/>
<g clip-path="url(#ci2)">
<rect x="400" y="1883" width="346" height="260" fill="url(#img2g)"/>
<filter id="sp5" filterUnits="userSpaceOnUse" x="402" y="1884" width="342" height="258" color-interpolation-filters="sRGB"><feTurbulence type="fractalNoise" baseFrequency="0.45" numOctaves="1" seed="21"/><feColorMatrix type="matrix" values="0 0 0 0 0.243 0 0 0 0 0.133 0 0 0 0 0.690 -16 0 0 0 6.5"/></filter><rect x="402" y="1884" width="342" height="258" filter="url(#sp5)"/>
<filter id="sp6" filterUnits="userSpaceOnUse" x="402" y="1884" width="342" height="258" color-interpolation-filters="sRGB"><feTurbulence type="fractalNoise" baseFrequency="0.45" numOctaves="1" seed="22"/><feColorMatrix type="matrix" values="0 0 0 0 0.769 0 0 0 0 0.604 0 0 0 0 0.902 -16 0 0 0 5.8"/></filter><rect x="402" y="1884" width="342" height="258" filter="url(#sp6)"/>
<path d="M672.0,1884.0C678.5,1881.9 737.7,1870.9 745.0,1884.0C752.3,1897.1 745.7,2002.2 745.0,2015.0C744.3,2027.8 739.7,2013.2 738.0,2012.0C736.3,2010.8 730.6,2005.2 728.0,2003.0C725.4,2000.8 714.8,1992.8 712.0,1990.0C709.2,1987.2 702.2,1978.0 700.0,1975.0C697.8,1972.0 691.6,1963.5 690.0,1960.0C688.4,1956.5 684.0,1943.5 684.0,1940.0C684.0,1936.5 690.4,1928.5 690.0,1925.0C689.6,1921.5 681.8,1909.1 680.0,1905.0C678.2,1900.9 665.5,1886.1 672.0,1884.0Z" fill="#e6e4ee"/>
<clipPath id="wrc"><path d="M672.0,1884.0C678.5,1881.9 737.7,1870.9 745.0,1884.0C752.3,1897.1 745.7,2002.2 745.0,2015.0C744.3,2027.8 739.7,2013.2 738.0,2012.0C736.3,2010.8 730.6,2005.2 728.0,2003.0C725.4,2000.8 714.8,1992.8 712.0,1990.0C709.2,1987.2 702.2,1978.0 700.0,1975.0C697.8,1972.0 691.6,1963.5 690.0,1960.0C688.4,1956.5 684.0,1943.5 684.0,1940.0C684.0,1936.5 690.4,1928.5 690.0,1925.0C689.6,1921.5 681.8,1909.1 680.0,1905.0C678.2,1900.9 665.5,1886.1 672.0,1884.0Z"/></clipPath><g clip-path="url(#wrc)"><filter id="ln7" filterUnits="userSpaceOnUse" x="670" y="1884" width="75" height="131" color-interpolation-filters="sRGB"><feTurbulence type="turbulence" baseFrequency="0.07" numOctaves="1" seed="21"/><feColorMatrix type="matrix" values="0 0 0 0 0.620 0 0 0 0 0.400 0 0 0 0 0.776 -16 0 0 0 1.6"/></filter><rect x="670" y="1884" width="75" height="131" filter="url(#ln7)"/></g>
<path d="M555,2145 L700,2055" stroke="#e8b8d8" stroke-width="14" stroke-linecap="round"/>
<path d="M560,2142 L697,2057" stroke="#cf6a9a" stroke-width="6" stroke-linecap="round" opacity="0.8"/>
</g>
<rect x="401.80" y="1884.70" width="341.60" height="256.20" fill="none" stroke="#000" stroke-width="2.6"/>
<g clip-path="url(#ci3)">
<rect x="769" y="1883" width="346" height="260" fill="#efecf1"/>
<filter id="ln8" filterUnits="userSpaceOnUse" x="771" y="1884" width="342" height="258" color-interpolation-filters="sRGB"><feTurbulence type="turbulence" baseFrequency="0.17" numOctaves="1" seed="31"/><feColorMatrix type="matrix" values="0 0 0 0 0.690 0 0 0 0 0.400 0 0 0 0 0.776 -13 0 0 0 2.05"/></filter><rect x="771" y="1884" width="342" height="258" filter="url(#ln8)"/>
<path d="M770,1884 L972,1884 L958,1898 L935,1920 L915,1933 L893,1940 L873,1952 L848,1972 L823,1993 L800,2006 L771,2020 Z" fill="#ccd2dc"/>
<ellipse cx="903" cy="1993" rx="35" ry="30" fill="#6c4ab2" transform="rotate(15 903 1993)"/>
<ellipse cx="956" cy="1997" rx="13" ry="15" fill="#7a56b8"/>
<circle cx="935" cy="2007" r="5" fill="#f2eef6"/>
<ellipse cx="1058" cy="1905" rx="14" ry="12" fill="#7050b4"/><ellipse cx="1087" cy="1925" rx="10" ry="14" fill="#7050b4"/><ellipse cx="1098" cy="1895" rx="14" ry="10" fill="#7656b8"/>
<ellipse cx="1018" cy="2019" rx="12" ry="6" fill="#d07aa0" transform="rotate(30 1018 2019)"/>
<path d="M775,2075 Q820,2060 845,2100 L850,2140 L790,2140 Z" fill="#f4f2f6"/>
<path d="M1040,2040 Q1080,2070 1110,2120 L1110,2140 L1065,2140 Q1060,2090 1040,2040Z" fill="#f4f2f6"/>
</g>
<rect x="771.10" y="1884.70" width="341.40" height="256.20" fill="none" stroke="#000" stroke-width="2.6"/>
<g clip-path="url(#ci4)">
<rect x="1122" y="1883" width="346" height="260" fill="#e7e8ee"/>
<filter id="ln9" filterUnits="userSpaceOnUse" x="1124" y="1884" width="342" height="258" color-interpolation-filters="sRGB"><feTurbulence type="turbulence" baseFrequency="0.075" numOctaves="1" seed="41"/><feColorMatrix type="matrix" values="0 0 0 0 0.541 0 0 0 0 0.251 0 0 0 0 0.722 -14 0 0 0 2.1"/></filter><rect x="1124" y="1884" width="342" height="258" filter="url(#ln9)"/>
<path d="M1123,1884 L1272,1884 L1238,1896 L1215,1918 L1190,1935 L1162,1953 L1140,1970 L1123,1982 Z" fill="#d2d6e2"/>
<path d="M1220.0,1950.0C1228.3,1942.5 1245.3,1932.5 1262.0,1930.0C1278.7,1927.5 1302.0,1931.7 1320.0,1935.0C1338.0,1938.3 1358.0,1943.3 1370.0,1950.0C1382.0,1956.7 1387.3,1965.0 1392.0,1975.0C1396.7,1985.0 1397.5,1997.5 1398.0,2010.0C1398.5,2022.5 1399.7,2039.2 1395.0,2050.0C1390.3,2060.8 1382.5,2070.3 1370.0,2075.0C1357.5,2079.7 1336.7,2078.8 1320.0,2078.0C1303.3,2077.2 1283.7,2075.5 1270.0,2070.0C1256.3,2064.5 1246.7,2055.0 1238.0,2045.0C1229.3,2035.0 1222.3,2021.7 1218.0,2010.0C1213.7,1998.3 1211.7,1985.0 1212.0,1975.0C1212.3,1965.0 1211.7,1957.5 1220.0,1950.0Z" fill="#6a46b4"/>
<clipPath id="nodc"><path d="M1220.0,1950.0C1228.3,1942.5 1245.3,1932.5 1262.0,1930.0C1278.7,1927.5 1302.0,1931.7 1320.0,1935.0C1338.0,1938.3 1358.0,1943.3 1370.0,1950.0C1382.0,1956.7 1387.3,1965.0 1392.0,1975.0C1396.7,1985.0 1397.5,1997.5 1398.0,2010.0C1398.5,2022.5 1399.7,2039.2 1395.0,2050.0C1390.3,2060.8 1382.5,2070.3 1370.0,2075.0C1357.5,2079.7 1336.7,2078.8 1320.0,2078.0C1303.3,2077.2 1283.7,2075.5 1270.0,2070.0C1256.3,2064.5 1246.7,2055.0 1238.0,2045.0C1229.3,2035.0 1222.3,2021.7 1218.0,2010.0C1213.7,1998.3 1211.7,1985.0 1212.0,1975.0C1212.3,1965.0 1211.7,1957.5 1220.0,1950.0Z"/></clipPath><g clip-path="url(#nodc)"><filter id="sp10" filterUnits="userSpaceOnUse" x="1210" y="1925" width="190" height="155" color-interpolation-filters="sRGB"><feTurbulence type="fractalNoise" baseFrequency="0.5" numOctaves="1" seed="42"/><feColorMatrix type="matrix" values="0 0 0 0 0.306 0 0 0 0 0.180 0 0 0 0 0.604 -16 0 0 0 6.4"/></filter><rect x="1210" y="1925" width="190" height="155" filter="url(#sp10)"/><filter id="sp11" filterUnits="userSpaceOnUse" x="1210" y="1925" width="190" height="155" color-interpolation-filters="sRGB"><feTurbulence type="fractalNoise" baseFrequency="0.5" numOctaves="1" seed="43"/><feColorMatrix type="matrix" values="0 0 0 0 0.627 0 0 0 0 0.502 0 0 0 0 0.816 -16 0 0 0 6.4"/></filter><rect x="1210" y="1925" width="190" height="155" filter="url(#sp11)"/></g>
<ellipse cx="1430" cy="2022" rx="32" ry="38" fill="#7452ba"/>
<circle cx="1375" cy="2040" r="11" fill="#f3f1f7"/>
</g>
<rect x="1124.00" y="1884.70" width="341.50" height="256.20" fill="none" stroke="#000" stroke-width="2.6"/>
<rect x="193.6" y="1957.9" width="132" height="100.5" stroke="#e8141a" stroke-width="2.3" fill="none" stroke-dasharray="7.5,4.4"/>
<path d="M325.6,1957.9 L400.5,1883.4 M325.6,2058.4 L400.5,2142" stroke="#e8141a" stroke-width="2.3" fill="none" stroke-dasharray="14,6"/>
<rect x="838.5" y="1942.6" width="131.9" height="100.9" stroke="#e8141a" stroke-width="2.3" fill="none" stroke-dasharray="7.5,4.4"/>
<path d="M970.4,1942.6 L1113.2,1883.4 M970.4,2043.5 L1122.7,2142" stroke="#e8141a" stroke-width="2.3" fill="none" stroke-dasharray="14,6"/>
<text x="184.88" y="2181.30" font-size="34.00" textLength="57.74" lengthAdjust="spacingAndGlyphs">40×</text>
<text x="522.43" y="2181.30" font-size="35.37" textLength="77.72" lengthAdjust="spacingAndGlyphs">100×</text>
<text x="914.09" y="2181.30" font-size="34.00" textLength="57.33" lengthAdjust="spacingAndGlyphs">40×</text>
<text x="1252.15" y="2181.30" font-size="34.94" textLength="76.78" lengthAdjust="spacingAndGlyphs">100×</text>
<text x="1491.54" y="1821.20" font-size="84.00" textLength="27.39" lengthAdjust="spacingAndGlyphs">j</text>
<line x1="1622.60" y1="1791.70" x2="1622.60" y2="2157.50" stroke="#000" stroke-width="3"/>
<line x1="1612.50" y1="2156.00" x2="1622.60" y2="2156.00" stroke="#000" stroke-width="3"/>
<text x="1592.81" y="2165.10" font-size="29.30" textLength="15.32" lengthAdjust="spacingAndGlyphs">0</text>
<line x1="1612.50" y1="1991.05" x2="1622.60" y2="1991.05" stroke="#000" stroke-width="3"/>
<text x="1577.49" y="2000.15" font-size="29.30" textLength="30.64" lengthAdjust="spacingAndGlyphs">50</text>
<line x1="1612.50" y1="1826.10" x2="1622.60" y2="1826.10" stroke="#000" stroke-width="3"/>
<text x="1562.18" y="1835.20" font-size="29.30" textLength="45.95" lengthAdjust="spacingAndGlyphs">100</text>
<line x1="1612.50" y1="2156.00" x2="1986.30" y2="2156.00" stroke="#000" stroke-width="3"/>
<line x1="1622.60" y1="2156.00" x2="1622.60" y2="2166.00" stroke="#000" stroke-width="3"/>
<text x="1614.96" y="2200.60" font-size="29.30" textLength="15.32" lengthAdjust="spacingAndGlyphs">0</text>
<line x1="1743.57" y1="2156.00" x2="1743.57" y2="2166.00" stroke="#000" stroke-width="3"/>
<text x="1728.34" y="2200.60" font-size="29.30" textLength="30.64" lengthAdjust="spacingAndGlyphs">20</text>
<line x1="1864.53" y1="2156.00" x2="1864.53" y2="2166.00" stroke="#000" stroke-width="3"/>
<text x="1849.57" y="2200.60" font-size="29.30" textLength="30.64" lengthAdjust="spacingAndGlyphs">40</text>
<line x1="1985.50" y1="2156.00" x2="1985.50" y2="2166.00" stroke="#000" stroke-width="3"/>
<text x="1970.24" y="2200.60" font-size="29.30" textLength="30.64" lengthAdjust="spacingAndGlyphs">60</text>
<polyline points="1622.6,1826.1 1864.5,1826.1 1864.5,1881.2 1882.7,1881.2 1882.7,1936.0 1894.8,1936.0 1894.8,1991.0 1900.8,1991.0 1900.8,2046.1 1912.9,2046.1 1912.9,2156.0" fill="none" stroke="#00C000" stroke-width="3.4"/>
<polyline points="1622.6,1826.1 1810.1,1826.1 1810.1,1881.2 1840.3,1881.2 1840.3,1991.0 1858.5,1991.0 1858.5,2046.1 1864.5,2046.1 1864.5,2100.9 1870.6,2100.9 1870.6,2156.0" fill="none" stroke="#FF8000" stroke-width="3.4"/>
<line x1="1810.10" y1="1874.19" x2="1810.10" y2="1882.69" stroke="#000" stroke-width="3.4"/>
<line x1="1840.34" y1="1984.05" x2="1840.34" y2="1992.55" stroke="#000" stroke-width="3.4"/>
<line x1="1858.48" y1="2039.14" x2="1858.48" y2="2047.64" stroke="#000" stroke-width="3.4"/>
<line x1="1864.53" y1="2093.91" x2="1864.53" y2="2102.41" stroke="#000" stroke-width="3.4"/>
<line x1="1870.58" y1="2149.00" x2="1870.58" y2="2157.50" stroke="#000" stroke-width="3.4"/>
<line x1="1864.53" y1="1874.19" x2="1864.53" y2="1882.69" stroke="#000" stroke-width="3.4"/>
<line x1="1882.68" y1="1928.96" x2="1882.68" y2="1937.46" stroke="#000" stroke-width="3.4"/>
<line x1="1894.78" y1="1984.05" x2="1894.78" y2="1992.55" stroke="#000" stroke-width="3.4"/>
<line x1="1900.82" y1="2039.14" x2="1900.82" y2="2047.64" stroke="#000" stroke-width="3.4"/>
<line x1="1912.92" y1="2149.00" x2="1912.92" y2="2157.50" stroke="#000" stroke-width="3.4"/>
<line x1="1635.80" y1="1763.00" x2="1674.20" y2="1763.00" stroke="#FF8000" stroke-width="3.6"/>
<line x1="1654.00" y1="1756.00" x2="1654.00" y2="1763.00" stroke="#000" stroke-width="2.6"/>
<line x1="1635.80" y1="1811.80" x2="1674.20" y2="1811.80" stroke="#00C000" stroke-width="3.6"/>
<line x1="1654.00" y1="1805.00" x2="1654.00" y2="1811.80" stroke="#000" stroke-width="2.6"/>
<text x="1680.51" y="1771.60" font-size="35.04" textLength="180.42" lengthAdjust="spacingAndGlyphs">LV-miR-NC</text>
<text x="1680.53" y="1820.40" font-size="34.71" textLength="186.31" lengthAdjust="spacingAndGlyphs">LV-miR-601</text>
<text x="1642.12" y="2136.00" font-size="35.42" textLength="108.54" lengthAdjust="spacingAndGlyphs">p&lt;0.05</text>
<text x="1923.68" y="2136.00" font-size="35.47" textLength="82.73" lengthAdjust="spacingAndGlyphs">Days</text>
<text transform="translate(1545.50,2090.00) rotate(-90)" x="-2.05" y="0" font-size="31.38" textLength="236.51" lengthAdjust="spacingAndGlyphs">Percent survival</text></svg></body></html>
